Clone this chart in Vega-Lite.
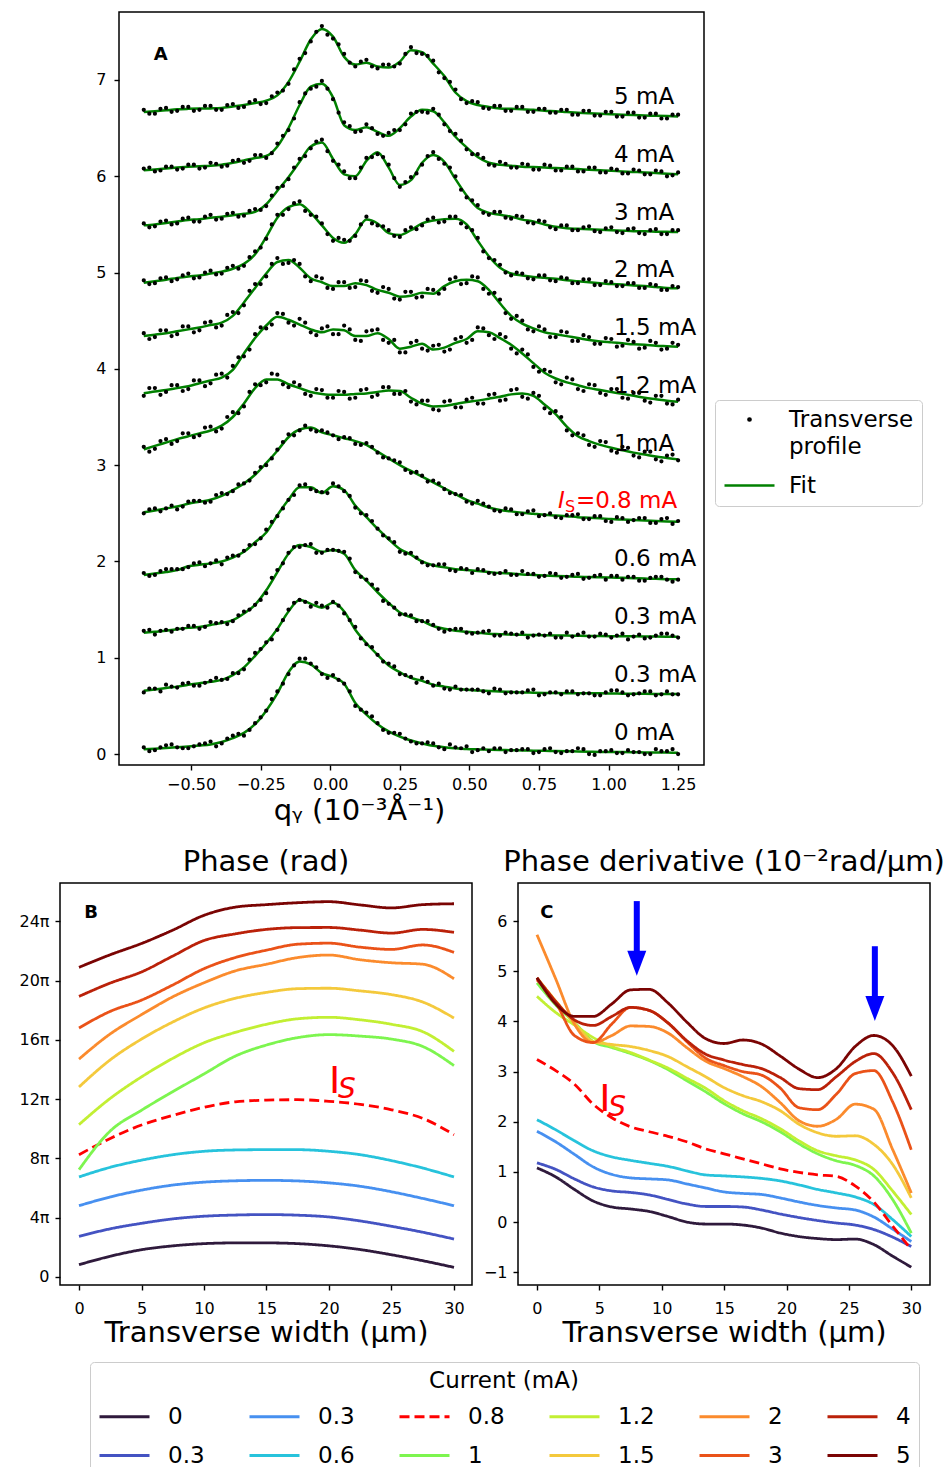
{
"$schema":"https://vega.github.io/schema/vega-lite/v6.json",
"padding":{"left":18,"top":11,"right":0,"bottom":0},
"autosize":{"type":"pad"},
"background":"white",
"config":{
 "font":"DejaVu Sans",
 "view":{"stroke":"black","strokeWidth":1.5},
 "axis":{"domain":false,"grid":false,"tickColor":"black","tickWidth":1.4,"tickSize":5,"labelFont":"DejaVu Sans","labelFontSize":16,"labelColor":"black","titleFont":"DejaVu Sans","titleFontSize":29,"titleFontWeight":"normal","titleColor":"black"},
 "axisX":{"labelPadding":10},
 "axisY":{"labelPadding":6},
 "title":{"font":"DejaVu Sans","fontSize":29,"fontWeight":"normal","color":"black","offset":6},
 "legend":{"labelFont":"DejaVu Sans","titleFont":"DejaVu Sans","labelColor":"black","titleColor":"black"},
 "text":{"font":"DejaVu Sans"}
},
"datasets":{
"A":[
{"k":0,"x":-0.67,"f":0.05,"d":0.07},{"k":0,"x":-0.63,"f":0.055,"d":0.04},{"k":0,"x":-0.59,"f":0.062,"d":0.09},{"k":0,"x":-0.55,"f":0.07,"d":0.07},{"k":0,"x":-0.51,"f":0.078,"d":0.06},{"k":0,"x":-0.47,"f":0.088,"d":0.10},{"k":0,"x":-0.43,"f":0.10,"d":0.13},{"k":0,"x":-0.39,"f":0.125,"d":0.11},{"k":0,"x":-0.35,"f":0.165,"d":0.19},{"k":0,"x":-0.31,"f":0.22,"d":0.19},{"k":0,"x":-0.27,"f":0.31,"d":0.32},{"k":0,"x":-0.23,"f":0.45,"d":0.45},{"k":0,"x":-0.19,"f":0.63,"d":0.65},{"k":0,"x":-0.15,"f":0.85,"d":0.83},{"k":0,"x":-0.11,"f":0.96,"d":0.99},{"k":0,"x":-0.07,"f":0.93,"d":0.94},{"k":0,"x":-0.03,"f":0.84,"d":0.83},{"k":0,"x":0.01,"f":0.80,"d":0.82},{"k":0,"x":0.05,"f":0.73,"d":0.73},{"k":0,"x":0.09,"f":0.53,"d":0.50},{"k":0,"x":0.13,"f":0.41,"d":0.43},{"k":0,"x":0.17,"f":0.31,"d":0.32},{"k":0,"x":0.21,"f":0.235,"d":0.22},{"k":0,"x":0.25,"f":0.18,"d":0.21},{"k":0,"x":0.29,"f":0.14,"d":0.13},{"k":0,"x":0.33,"f":0.11,"d":0.11},{"k":0,"x":0.37,"f":0.085,"d":0.11},{"k":0,"x":0.41,"f":0.07,"d":0.05},{"k":0,"x":0.45,"f":0.06,"d":0.07},{"k":0,"x":0.49,"f":0.052,"d":0.08},{"k":0,"x":0.53,"f":0.048,"d":0.04},{"k":0,"x":0.57,"f":0.045,"d":0.03},{"k":0,"x":0.61,"f":0.042,"d":0.06},{"k":0,"x":0.65,"f":0.04,"d":0.04},{"k":0,"x":0.69,"f":0.037,"d":0.05},{"k":0,"x":0.73,"f":0.035,"d":0.01},{"k":0,"x":0.77,"f":0.033,"d":0.05},{"k":0,"x":0.81,"f":0.031,"d":0.02},{"k":0,"x":0.85,"f":0.029,"d":0.03},{"k":0,"x":0.89,"f":0.026,"d":0.06},{"k":0,"x":0.93,"f":0.024,"d":0.00},{"k":0,"x":0.97,"f":0.022,"d":0.03},{"k":0,"x":1.01,"f":0.021,"d":0.04},{"k":0,"x":1.05,"f":0.02,"d":0.01},{"k":0,"x":1.09,"f":0.019,"d":0.02},{"k":0,"x":1.13,"f":0.017,"d":0.00},{"k":0,"x":1.17,"f":0.016,"d":0.05},{"k":0,"x":1.21,"f":0.015,"d":0.03},{"k":0,"x":1.25,"f":0.014,"d":0.00},
{"k":1,"x":-0.67,"f":0.657,"d":0.64},{"k":1,"x":-0.63,"f":0.67,"d":0.68},{"k":1,"x":-0.59,"f":0.685,"d":0.72},{"k":1,"x":-0.55,"f":0.70,"d":0.69},{"k":1,"x":-0.51,"f":0.72,"d":0.74},{"k":1,"x":-0.47,"f":0.735,"d":0.71},{"k":1,"x":-0.43,"f":0.75,"d":0.76},{"k":1,"x":-0.39,"f":0.77,"d":0.77},{"k":1,"x":-0.35,"f":0.82,"d":0.84},{"k":1,"x":-0.31,"f":0.90,"d":0.88},{"k":1,"x":-0.27,"f":1.02,"d":1.05},{"k":1,"x":-0.23,"f":1.15,"d":1.16},{"k":1,"x":-0.19,"f":1.30,"d":1.29},{"k":1,"x":-0.15,"f":1.48,"d":1.50},{"k":1,"x":-0.11,"f":1.60,"d":1.60},{"k":1,"x":-0.07,"f":1.56,"d":1.53},{"k":1,"x":-0.03,"f":1.52,"d":1.54},{"k":1,"x":0.01,"f":1.57,"d":1.58},{"k":1,"x":0.05,"f":1.48,"d":1.46},{"k":1,"x":0.09,"f":1.29,"d":1.32},{"k":1,"x":0.13,"f":1.15,"d":1.14},{"k":1,"x":0.17,"f":1.03,"d":1.03},{"k":1,"x":0.21,"f":0.92,"d":0.94},{"k":1,"x":0.25,"f":0.85,"d":0.83},{"k":1,"x":0.29,"f":0.79,"d":0.80},{"k":1,"x":0.33,"f":0.76,"d":0.79},{"k":1,"x":0.37,"f":0.72,"d":0.71},{"k":1,"x":0.41,"f":0.70,"d":0.68},{"k":1,"x":0.45,"f":0.68,"d":0.70},{"k":1,"x":0.49,"f":0.667,"d":0.67},{"k":1,"x":0.53,"f":0.66,"d":0.67},{"k":1,"x":0.57,"f":0.655,"d":0.63},{"k":1,"x":0.61,"f":0.65,"d":0.67},{"k":1,"x":0.65,"f":0.645,"d":0.64},{"k":1,"x":0.69,"f":0.64,"d":0.64},{"k":1,"x":0.73,"f":0.637,"d":0.67},{"k":1,"x":0.77,"f":0.635,"d":0.62},{"k":1,"x":0.81,"f":0.633,"d":0.64},{"k":1,"x":0.85,"f":0.632,"d":0.65},{"k":1,"x":0.89,"f":0.631,"d":0.62},{"k":1,"x":0.93,"f":0.63,"d":0.63},{"k":1,"x":0.97,"f":0.63,"d":0.61},{"k":1,"x":1.01,"f":0.628,"d":0.66},{"k":1,"x":1.05,"f":0.627,"d":0.64},{"k":1,"x":1.09,"f":0.626,"d":0.62},{"k":1,"x":1.13,"f":0.625,"d":0.65},{"k":1,"x":1.17,"f":0.624,"d":0.61},{"k":1,"x":1.21,"f":0.623,"d":0.65},{"k":1,"x":1.25,"f":0.623,"d":0.62},
{"k":2,"x":-0.67,"f":1.26,"d":1.28},{"k":2,"x":-0.63,"f":1.27,"d":1.24},{"k":2,"x":-0.59,"f":1.28,"d":1.29},{"k":2,"x":-0.55,"f":1.295,"d":1.30},{"k":2,"x":-0.51,"f":1.31,"d":1.33},{"k":2,"x":-0.47,"f":1.32,"d":1.30},{"k":2,"x":-0.43,"f":1.34,"d":1.37},{"k":2,"x":-0.39,"f":1.36,"d":1.37},{"k":2,"x":-0.35,"f":1.39,"d":1.38},{"k":2,"x":-0.31,"f":1.46,"d":1.48},{"k":2,"x":-0.27,"f":1.55,"d":1.55},{"k":2,"x":-0.23,"f":1.70,"d":1.67},{"k":2,"x":-0.19,"f":1.89,"d":1.91},{"k":2,"x":-0.15,"f":2.08,"d":2.09},{"k":2,"x":-0.11,"f":2.17,"d":2.15},{"k":2,"x":-0.07,"f":2.15,"d":2.18},{"k":2,"x":-0.03,"f":2.10,"d":2.09},{"k":2,"x":0.01,"f":2.12,"d":2.12},{"k":2,"x":0.05,"f":2.08,"d":2.10},{"k":2,"x":0.09,"f":1.91,"d":1.89},{"k":2,"x":0.13,"f":1.80,"d":1.81},{"k":2,"x":0.17,"f":1.68,"d":1.71},{"k":2,"x":0.21,"f":1.57,"d":1.56},{"k":2,"x":0.25,"f":1.47,"d":1.45},{"k":2,"x":0.29,"f":1.42,"d":1.44},{"k":2,"x":0.33,"f":1.38,"d":1.38},{"k":2,"x":0.37,"f":1.33,"d":1.34},{"k":2,"x":0.41,"f":1.30,"d":1.27},{"k":2,"x":0.45,"f":1.28,"d":1.30},{"k":2,"x":0.49,"f":1.27,"d":1.26},{"k":2,"x":0.53,"f":1.26,"d":1.26},{"k":2,"x":0.57,"f":1.25,"d":1.28},{"k":2,"x":0.61,"f":1.245,"d":1.23},{"k":2,"x":0.65,"f":1.24,"d":1.25},{"k":2,"x":0.69,"f":1.238,"d":1.26},{"k":2,"x":0.73,"f":1.236,"d":1.23},{"k":2,"x":0.77,"f":1.234,"d":1.23},{"k":2,"x":0.81,"f":1.232,"d":1.21},{"k":2,"x":0.85,"f":1.23,"d":1.26},{"k":2,"x":0.89,"f":1.228,"d":1.24},{"k":2,"x":0.93,"f":1.226,"d":1.22},{"k":2,"x":0.97,"f":1.225,"d":1.25},{"k":2,"x":1.01,"f":1.224,"d":1.21},{"k":2,"x":1.05,"f":1.223,"d":1.25},{"k":2,"x":1.09,"f":1.222,"d":1.22},{"k":2,"x":1.13,"f":1.221,"d":1.20},{"k":2,"x":1.17,"f":1.22,"d":1.23},{"k":2,"x":1.21,"f":1.219,"d":1.25},{"k":2,"x":1.25,"f":1.218,"d":1.21},
{"k":3,"x":-0.67,"f":1.86,"d":1.88},{"k":3,"x":-0.63,"f":1.875,"d":1.86},{"k":3,"x":-0.59,"f":1.89,"d":1.92},{"k":3,"x":-0.55,"f":1.91,"d":1.92},{"k":3,"x":-0.51,"f":1.95,"d":1.94},{"k":3,"x":-0.47,"f":1.965,"d":1.99},{"k":3,"x":-0.43,"f":1.98,"d":1.98},{"k":3,"x":-0.39,"f":2.00,"d":1.97},{"k":3,"x":-0.35,"f":2.04,"d":2.06},{"k":3,"x":-0.31,"f":2.10,"d":2.11},{"k":3,"x":-0.27,"f":2.20,"d":2.18},{"k":3,"x":-0.23,"f":2.30,"d":2.33},{"k":3,"x":-0.19,"f":2.48,"d":2.47},{"k":3,"x":-0.15,"f":2.64,"d":2.64},{"k":3,"x":-0.11,"f":2.77,"d":2.79},{"k":3,"x":-0.07,"f":2.77,"d":2.75},{"k":3,"x":-0.03,"f":2.71,"d":2.72},{"k":3,"x":0.01,"f":2.78,"d":2.81},{"k":3,"x":0.05,"f":2.74,"d":2.73},{"k":3,"x":0.09,"f":2.58,"d":2.56},{"k":3,"x":0.13,"f":2.46,"d":2.48},{"k":3,"x":0.17,"f":2.34,"d":2.34},{"k":3,"x":0.21,"f":2.23,"d":2.24},{"k":3,"x":0.25,"f":2.13,"d":2.10},{"k":3,"x":0.29,"f":2.07,"d":2.09},{"k":3,"x":0.33,"f":2.00,"d":1.99},{"k":3,"x":0.37,"f":1.96,"d":1.96},{"k":3,"x":0.41,"f":1.94,"d":1.97},{"k":3,"x":0.45,"f":1.92,"d":1.90},{"k":3,"x":0.49,"f":1.91,"d":1.92},{"k":3,"x":0.53,"f":1.90,"d":1.92},{"k":3,"x":0.57,"f":1.89,"d":1.88},{"k":3,"x":0.61,"f":1.88,"d":1.88},{"k":3,"x":0.65,"f":1.875,"d":1.86},{"k":3,"x":0.69,"f":1.865,"d":1.90},{"k":3,"x":0.73,"f":1.86,"d":1.87},{"k":3,"x":0.77,"f":1.855,"d":1.85},{"k":3,"x":0.81,"f":1.85,"d":1.87},{"k":3,"x":0.85,"f":1.845,"d":1.84},{"k":3,"x":0.89,"f":1.84,"d":1.87},{"k":3,"x":0.93,"f":1.838,"d":1.83},{"k":3,"x":0.97,"f":1.835,"d":1.86},{"k":3,"x":1.01,"f":1.832,"d":1.85},{"k":3,"x":1.05,"f":1.83,"d":1.81},{"k":3,"x":1.09,"f":1.826,"d":1.84},{"k":3,"x":1.13,"f":1.822,"d":1.80},{"k":3,"x":1.17,"f":1.82,"d":1.84},{"k":3,"x":1.21,"f":1.816,"d":1.81},{"k":3,"x":1.25,"f":1.814,"d":1.81},
{"k":4,"x":-0.67,"f":2.51,"d":2.50},{"k":4,"x":-0.63,"f":2.53,"d":2.55},{"k":4,"x":-0.59,"f":2.55,"d":2.55},{"k":4,"x":-0.55,"f":2.57,"d":2.54},{"k":4,"x":-0.51,"f":2.60,"d":2.62},{"k":4,"x":-0.47,"f":2.62,"d":2.63},{"k":4,"x":-0.43,"f":2.64,"d":2.62},{"k":4,"x":-0.39,"f":2.68,"d":2.71},{"k":4,"x":-0.35,"f":2.74,"d":2.73},{"k":4,"x":-0.31,"f":2.81,"d":2.81},{"k":4,"x":-0.27,"f":2.90,"d":2.92},{"k":4,"x":-0.23,"f":3.02,"d":3.00},{"k":4,"x":-0.19,"f":3.15,"d":3.16},{"k":4,"x":-0.15,"f":3.29,"d":3.32},{"k":4,"x":-0.11,"f":3.37,"d":3.36},{"k":4,"x":-0.07,"f":3.39,"d":3.37},{"k":4,"x":-0.03,"f":3.34,"d":3.36},{"k":4,"x":0.01,"f":3.31,"d":3.31},{"k":4,"x":0.05,"f":3.28,"d":3.29},{"k":4,"x":0.09,"f":3.25,"d":3.22},{"k":4,"x":0.13,"f":3.21,"d":3.23},{"k":4,"x":0.17,"f":3.14,"d":3.13},{"k":4,"x":0.21,"f":3.07,"d":3.07},{"k":4,"x":0.25,"f":3.00,"d":3.03},{"k":4,"x":0.29,"f":2.94,"d":2.92},{"k":4,"x":0.33,"f":2.88,"d":2.89},{"k":4,"x":0.37,"f":2.82,"d":2.84},{"k":4,"x":0.41,"f":2.76,"d":2.75},{"k":4,"x":0.45,"f":2.70,"d":2.70},{"k":4,"x":0.49,"f":2.64,"d":2.62},{"k":4,"x":0.53,"f":2.60,"d":2.63},{"k":4,"x":0.57,"f":2.56,"d":2.57},{"k":4,"x":0.61,"f":2.535,"d":2.52},{"k":4,"x":0.65,"f":2.52,"d":2.54},{"k":4,"x":0.69,"f":2.505,"d":2.49},{"k":4,"x":0.73,"f":2.495,"d":2.53},{"k":4,"x":0.77,"f":2.485,"d":2.48},{"k":4,"x":0.81,"f":2.478,"d":2.46},{"k":4,"x":0.85,"f":2.47,"d":2.48},{"k":4,"x":0.89,"f":2.46,"d":2.49},{"k":4,"x":0.93,"f":2.455,"d":2.44},{"k":4,"x":0.97,"f":2.448,"d":2.47},{"k":4,"x":1.01,"f":2.44,"d":2.41},{"k":4,"x":1.05,"f":2.435,"d":2.45},{"k":4,"x":1.09,"f":2.43,"d":2.43},{"k":4,"x":1.13,"f":2.425,"d":2.45},{"k":4,"x":1.17,"f":2.42,"d":2.40},{"k":4,"x":1.21,"f":2.416,"d":2.45},{"k":4,"x":1.25,"f":2.413,"d":2.42},
{"k":5,"x":-0.67,"f":3.164,"d":3.19},{"k":5,"x":-0.63,"f":3.20,"d":3.17},{"k":5,"x":-0.59,"f":3.235,"d":3.27},{"k":5,"x":-0.55,"f":3.27,"d":3.25},{"k":5,"x":-0.51,"f":3.30,"d":3.33},{"k":5,"x":-0.47,"f":3.33,"d":3.31},{"k":5,"x":-0.43,"f":3.36,"d":3.40},{"k":5,"x":-0.39,"f":3.41,"d":3.38},{"k":5,"x":-0.35,"f":3.50,"d":3.55},{"k":5,"x":-0.31,"f":3.64,"d":3.61},{"k":5,"x":-0.27,"f":3.80,"d":3.84},{"k":5,"x":-0.23,"f":3.89,"d":3.86},{"k":5,"x":-0.19,"f":3.89,"d":3.94},{"k":5,"x":-0.15,"f":3.84,"d":3.81},{"k":5,"x":-0.11,"f":3.80,"d":3.83},{"k":5,"x":-0.07,"f":3.76,"d":3.72},{"k":5,"x":-0.03,"f":3.74,"d":3.78},{"k":5,"x":0.01,"f":3.73,"d":3.70},{"k":5,"x":0.05,"f":3.73,"d":3.76},{"k":5,"x":0.09,"f":3.74,"d":3.70},{"k":5,"x":0.13,"f":3.745,"d":3.79},{"k":5,"x":0.17,"f":3.76,"d":3.73},{"k":5,"x":0.21,"f":3.775,"d":3.81},{"k":5,"x":0.25,"f":3.77,"d":3.74},{"k":5,"x":0.29,"f":3.70,"d":3.66},{"k":5,"x":0.33,"f":3.64,"d":3.67},{"k":5,"x":0.37,"f":3.61,"d":3.58},{"k":5,"x":0.41,"f":3.615,"d":3.66},{"k":5,"x":0.45,"f":3.635,"d":3.60},{"k":5,"x":0.49,"f":3.655,"d":3.68},{"k":5,"x":0.53,"f":3.67,"d":3.64},{"k":5,"x":0.57,"f":3.69,"d":3.73},{"k":5,"x":0.61,"f":3.71,"d":3.67},{"k":5,"x":0.65,"f":3.735,"d":3.78},{"k":5,"x":0.69,"f":3.745,"d":3.71},{"k":5,"x":0.73,"f":3.72,"d":3.75},{"k":5,"x":0.77,"f":3.63,"d":3.59},{"k":5,"x":0.81,"f":3.53,"d":3.56},{"k":5,"x":0.85,"f":3.40,"d":3.36},{"k":5,"x":0.89,"f":3.30,"d":3.33},{"k":5,"x":0.93,"f":3.25,"d":3.21},{"k":5,"x":0.97,"f":3.21,"d":3.25},{"k":5,"x":1.01,"f":3.18,"d":3.15},{"k":5,"x":1.05,"f":3.155,"d":3.19},{"k":5,"x":1.09,"f":3.13,"d":3.10},{"k":5,"x":1.13,"f":3.11,"d":3.14},{"k":5,"x":1.17,"f":3.09,"d":3.06},{"k":5,"x":1.21,"f":3.075,"d":3.10},{"k":5,"x":1.25,"f":3.06,"d":3.05},
{"k":6,"x":-0.67,"f":3.746,"d":3.72},{"k":6,"x":-0.63,"f":3.765,"d":3.80},{"k":6,"x":-0.59,"f":3.78,"d":3.76},{"k":6,"x":-0.55,"f":3.80,"d":3.83},{"k":6,"x":-0.51,"f":3.82,"d":3.79},{"k":6,"x":-0.47,"f":3.85,"d":3.88},{"k":6,"x":-0.43,"f":3.88,"d":3.85},{"k":6,"x":-0.39,"f":3.91,"d":3.95},{"k":6,"x":-0.35,"f":3.99,"d":4.03},{"k":6,"x":-0.31,"f":4.16,"d":4.13},{"k":6,"x":-0.27,"f":4.32,"d":4.36},{"k":6,"x":-0.23,"f":4.45,"d":4.42},{"k":6,"x":-0.19,"f":4.54,"d":4.58},{"k":6,"x":-0.15,"f":4.51,"d":4.48},{"k":6,"x":-0.11,"f":4.46,"d":4.52},{"k":6,"x":-0.07,"f":4.41,"d":4.38},{"k":6,"x":-0.03,"f":4.38,"d":4.42},{"k":6,"x":0.01,"f":4.41,"d":4.36},{"k":6,"x":0.05,"f":4.40,"d":4.45},{"k":6,"x":0.09,"f":4.34,"d":4.30},{"k":6,"x":0.13,"f":4.34,"d":4.39},{"k":6,"x":0.17,"f":4.37,"d":4.41},{"k":6,"x":0.21,"f":4.31,"d":4.27},{"k":6,"x":0.25,"f":4.21,"d":4.17},{"k":6,"x":0.29,"f":4.23,"d":4.27},{"k":6,"x":0.33,"f":4.26,"d":4.21},{"k":6,"x":0.37,"f":4.20,"d":4.24},{"k":6,"x":0.41,"f":4.22,"d":4.18},{"k":6,"x":0.45,"f":4.27,"d":4.31},{"k":6,"x":0.49,"f":4.31,"d":4.27},{"k":6,"x":0.53,"f":4.39,"d":4.43},{"k":6,"x":0.57,"f":4.38,"d":4.35},{"k":6,"x":0.61,"f":4.32,"d":4.36},{"k":6,"x":0.65,"f":4.25,"d":4.21},{"k":6,"x":0.69,"f":4.16,"d":4.20},{"k":6,"x":0.73,"f":4.06,"d":4.02},{"k":6,"x":0.77,"f":3.96,"d":3.99},{"k":6,"x":0.81,"f":3.90,"d":3.86},{"k":6,"x":0.85,"f":3.86,"d":3.91},{"k":6,"x":0.89,"f":3.83,"d":3.79},{"k":6,"x":0.93,"f":3.80,"d":3.84},{"k":6,"x":0.97,"f":3.78,"d":3.75},{"k":6,"x":1.01,"f":3.76,"d":3.79},{"k":6,"x":1.05,"f":3.74,"d":3.70},{"k":6,"x":1.09,"f":3.72,"d":3.75},{"k":6,"x":1.13,"f":3.70,"d":3.67},{"k":6,"x":1.17,"f":3.685,"d":3.72},{"k":6,"x":1.21,"f":3.67,"d":3.64},{"k":6,"x":1.25,"f":3.659,"d":3.68},
{"k":7,"x":-0.67,"f":4.341,"d":4.37},{"k":7,"x":-0.63,"f":4.355,"d":4.33},{"k":7,"x":-0.59,"f":4.37,"d":4.40},{"k":7,"x":-0.55,"f":4.39,"d":4.36},{"k":7,"x":-0.51,"f":4.41,"d":4.44},{"k":7,"x":-0.47,"f":4.43,"d":4.40},{"k":7,"x":-0.43,"f":4.455,"d":4.49},{"k":7,"x":-0.39,"f":4.48,"d":4.45},{"k":7,"x":-0.35,"f":4.55,"d":4.59},{"k":7,"x":-0.31,"f":4.69,"d":4.66},{"k":7,"x":-0.27,"f":4.84,"d":4.88},{"k":7,"x":-0.23,"f":4.99,"d":4.96},{"k":7,"x":-0.19,"f":5.11,"d":5.15},{"k":7,"x":-0.15,"f":5.13,"d":5.10},{"k":7,"x":-0.11,"f":5.05,"d":5.09},{"k":7,"x":-0.07,"f":4.94,"d":4.91},{"k":7,"x":-0.03,"f":4.90,"d":4.94},{"k":7,"x":0.01,"f":4.86,"d":4.83},{"k":7,"x":0.05,"f":4.86,"d":4.90},{"k":7,"x":0.09,"f":4.89,"d":4.85},{"k":7,"x":0.13,"f":4.87,"d":4.91},{"k":7,"x":0.17,"f":4.82,"d":4.79},{"k":7,"x":0.21,"f":4.79,"d":4.83},{"k":7,"x":0.25,"f":4.75,"d":4.72},{"k":7,"x":0.29,"f":4.76,"d":4.80},{"k":7,"x":0.33,"f":4.79,"d":4.75},{"k":7,"x":0.37,"f":4.78,"d":4.82},{"k":7,"x":0.41,"f":4.86,"d":4.83},{"k":7,"x":0.45,"f":4.91,"d":4.95},{"k":7,"x":0.49,"f":4.925,"d":4.89},{"k":7,"x":0.53,"f":4.91,"d":4.95},{"k":7,"x":0.57,"f":4.82,"d":4.78},{"k":7,"x":0.61,"f":4.68,"d":4.72},{"k":7,"x":0.65,"f":4.55,"d":4.52},{"k":7,"x":0.69,"f":4.47,"d":4.50},{"k":7,"x":0.73,"f":4.42,"d":4.39},{"k":7,"x":0.77,"f":4.38,"d":4.41},{"k":7,"x":0.81,"f":4.36,"d":4.33},{"k":7,"x":0.85,"f":4.34,"d":4.38},{"k":7,"x":0.89,"f":4.32,"d":4.29},{"k":7,"x":0.93,"f":4.30,"d":4.33},{"k":7,"x":0.97,"f":4.285,"d":4.26},{"k":7,"x":1.01,"f":4.275,"d":4.31},{"k":7,"x":1.05,"f":4.265,"d":4.24},{"k":7,"x":1.09,"f":4.255,"d":4.28},{"k":7,"x":1.13,"f":4.25,"d":4.22},{"k":7,"x":1.17,"f":4.24,"d":4.27},{"k":7,"x":1.21,"f":4.235,"d":4.21},{"k":7,"x":1.25,"f":4.23,"d":4.25},
{"k":8,"x":-0.67,"f":4.895,"d":4.92},{"k":8,"x":-0.63,"f":4.91,"d":4.89},{"k":8,"x":-0.59,"f":4.925,"d":4.95},{"k":8,"x":-0.55,"f":4.945,"d":4.93},{"k":8,"x":-0.51,"f":4.96,"d":4.99},{"k":8,"x":-0.47,"f":4.97,"d":4.95},{"k":8,"x":-0.43,"f":4.99,"d":5.02},{"k":8,"x":-0.39,"f":5.01,"d":4.99},{"k":8,"x":-0.35,"f":5.04,"d":5.07},{"k":8,"x":-0.31,"f":5.09,"d":5.07},{"k":8,"x":-0.27,"f":5.19,"d":5.22},{"k":8,"x":-0.23,"f":5.37,"d":5.35},{"k":8,"x":-0.19,"f":5.57,"d":5.60},{"k":8,"x":-0.15,"f":5.68,"d":5.66},{"k":8,"x":-0.11,"f":5.71,"d":5.74},{"k":8,"x":-0.07,"f":5.62,"d":5.60},{"k":8,"x":-0.03,"f":5.49,"d":5.51},{"k":8,"x":0.01,"f":5.36,"d":5.33},{"k":8,"x":0.05,"f":5.31,"d":5.34},{"k":8,"x":0.09,"f":5.40,"d":5.38},{"k":8,"x":0.13,"f":5.55,"d":5.58},{"k":8,"x":0.17,"f":5.51,"d":5.49},{"k":8,"x":0.21,"f":5.41,"d":5.44},{"k":8,"x":0.25,"f":5.39,"d":5.37},{"k":8,"x":0.29,"f":5.44,"d":5.47},{"k":8,"x":0.33,"f":5.51,"d":5.49},{"k":8,"x":0.37,"f":5.54,"d":5.57},{"k":8,"x":0.41,"f":5.555,"d":5.53},{"k":8,"x":0.45,"f":5.56,"d":5.58},{"k":8,"x":0.49,"f":5.50,"d":5.47},{"k":8,"x":0.53,"f":5.33,"d":5.36},{"k":8,"x":0.57,"f":5.17,"d":5.15},{"k":8,"x":0.61,"f":5.05,"d":5.08},{"k":8,"x":0.65,"f":4.99,"d":4.97},{"k":8,"x":0.69,"f":4.97,"d":4.99},{"k":8,"x":0.73,"f":4.955,"d":4.93},{"k":8,"x":0.77,"f":4.945,"d":4.97},{"k":8,"x":0.81,"f":4.935,"d":4.91},{"k":8,"x":0.85,"f":4.92,"d":4.94},{"k":8,"x":0.89,"f":4.91,"d":4.89},{"k":8,"x":0.93,"f":4.90,"d":4.93},{"k":8,"x":0.97,"f":4.89,"d":4.87},{"k":8,"x":1.01,"f":4.88,"d":4.90},{"k":8,"x":1.05,"f":4.875,"d":4.86},{"k":8,"x":1.09,"f":4.865,"d":4.89},{"k":8,"x":1.13,"f":4.86,"d":4.84},{"k":8,"x":1.17,"f":4.85,"d":4.87},{"k":8,"x":1.21,"f":4.84,"d":4.82},{"k":8,"x":1.25,"f":4.836,"d":4.85},
{"k":9,"x":-0.67,"f":5.491,"d":5.51},{"k":9,"x":-0.63,"f":5.50,"d":5.48},{"k":9,"x":-0.59,"f":5.515,"d":5.54},{"k":9,"x":-0.55,"f":5.53,"d":5.51},{"k":9,"x":-0.51,"f":5.545,"d":5.57},{"k":9,"x":-0.47,"f":5.555,"d":5.53},{"k":9,"x":-0.43,"f":5.57,"d":5.60},{"k":9,"x":-0.39,"f":5.58,"d":5.56},{"k":9,"x":-0.35,"f":5.595,"d":5.62},{"k":9,"x":-0.31,"f":5.61,"d":5.59},{"k":9,"x":-0.27,"f":5.63,"d":5.66},{"k":9,"x":-0.23,"f":5.71,"d":5.69},{"k":9,"x":-0.19,"f":5.85,"d":5.88},{"k":9,"x":-0.15,"f":5.99,"d":5.97},{"k":9,"x":-0.11,"f":6.15,"d":6.18},{"k":9,"x":-0.07,"f":6.31,"d":6.29},{"k":9,"x":-0.03,"f":6.35,"d":6.38},{"k":9,"x":0.01,"f":6.18,"d":6.16},{"k":9,"x":0.05,"f":6.02,"d":6.05},{"k":9,"x":0.09,"f":6.00,"d":5.98},{"k":9,"x":0.13,"f":6.16,"d":6.19},{"k":9,"x":0.17,"f":6.25,"d":6.23},{"k":9,"x":0.21,"f":6.09,"d":6.12},{"k":9,"x":0.25,"f":5.91,"d":5.89},{"k":9,"x":0.29,"f":5.96,"d":5.99},{"k":9,"x":0.33,"f":6.14,"d":6.12},{"k":9,"x":0.37,"f":6.22,"d":6.25},{"k":9,"x":0.41,"f":6.15,"d":6.13},{"k":9,"x":0.45,"f":5.97,"d":6.00},{"k":9,"x":0.49,"f":5.80,"d":5.78},{"k":9,"x":0.53,"f":5.67,"d":5.70},{"k":9,"x":0.57,"f":5.62,"d":5.60},{"k":9,"x":0.61,"f":5.60,"d":5.63},{"k":9,"x":0.65,"f":5.58,"d":5.56},{"k":9,"x":0.69,"f":5.55,"d":5.58},{"k":9,"x":0.73,"f":5.53,"d":5.51},{"k":9,"x":0.77,"f":5.50,"d":5.53},{"k":9,"x":0.81,"f":5.475,"d":5.45},{"k":9,"x":0.85,"f":5.46,"d":5.49},{"k":9,"x":0.89,"f":5.455,"d":5.44},{"k":9,"x":0.93,"f":5.45,"d":5.48},{"k":9,"x":0.97,"f":5.445,"d":5.42},{"k":9,"x":1.01,"f":5.44,"d":5.47},{"k":9,"x":1.05,"f":5.435,"d":5.41},{"k":9,"x":1.09,"f":5.43,"d":5.46},{"k":9,"x":1.13,"f":5.428,"d":5.40},{"k":9,"x":1.17,"f":5.425,"d":5.45},{"k":9,"x":1.21,"f":5.423,"d":5.40},{"k":9,"x":1.25,"f":5.421,"d":5.44},
{"k":10,"x":-0.67,"f":6.062,"d":6.08},{"k":10,"x":-0.63,"f":6.07,"d":6.05},{"k":10,"x":-0.59,"f":6.08,"d":6.10},{"k":10,"x":-0.55,"f":6.09,"d":6.07},{"k":10,"x":-0.51,"f":6.098,"d":6.12},{"k":10,"x":-0.47,"f":6.105,"d":6.08},{"k":10,"x":-0.43,"f":6.11,"d":6.14},{"k":10,"x":-0.39,"f":6.12,"d":6.10},{"k":10,"x":-0.35,"f":6.14,"d":6.16},{"k":10,"x":-0.31,"f":6.165,"d":6.14},{"k":10,"x":-0.27,"f":6.19,"d":6.22},{"k":10,"x":-0.23,"f":6.21,"d":6.19},{"k":10,"x":-0.19,"f":6.31,"d":6.34},{"k":10,"x":-0.15,"f":6.50,"d":6.48},{"k":10,"x":-0.11,"f":6.74,"d":6.77},{"k":10,"x":-0.07,"f":6.93,"d":6.91},{"k":10,"x":-0.03,"f":6.96,"d":6.99},{"k":10,"x":0.01,"f":6.82,"d":6.80},{"k":10,"x":0.05,"f":6.53,"d":6.56},{"k":10,"x":0.09,"f":6.48,"d":6.46},{"k":10,"x":0.13,"f":6.51,"d":6.54},{"k":10,"x":0.17,"f":6.46,"d":6.44},{"k":10,"x":0.21,"f":6.42,"d":6.45},{"k":10,"x":0.25,"f":6.50,"d":6.48},{"k":10,"x":0.29,"f":6.62,"d":6.65},{"k":10,"x":0.33,"f":6.69,"d":6.67},{"k":10,"x":0.37,"f":6.675,"d":6.70},{"k":10,"x":0.41,"f":6.56,"d":6.54},{"k":10,"x":0.45,"f":6.41,"d":6.44},{"k":10,"x":0.49,"f":6.30,"d":6.28},{"k":10,"x":0.53,"f":6.20,"d":6.23},{"k":10,"x":0.57,"f":6.14,"d":6.12},{"k":10,"x":0.61,"f":6.12,"d":6.15},{"k":10,"x":0.65,"f":6.11,"d":6.09},{"k":10,"x":0.69,"f":6.10,"d":6.13},{"k":10,"x":0.73,"f":6.096,"d":6.07},{"k":10,"x":0.77,"f":6.09,"d":6.12},{"k":10,"x":0.81,"f":6.085,"d":6.06},{"k":10,"x":0.85,"f":6.08,"d":6.10},{"k":10,"x":0.89,"f":6.075,"d":6.05},{"k":10,"x":0.93,"f":6.068,"d":6.09},{"k":10,"x":0.97,"f":6.062,"d":6.04},{"k":10,"x":1.01,"f":6.057,"d":6.08},{"k":10,"x":1.05,"f":6.05,"d":6.03},{"k":10,"x":1.09,"f":6.045,"d":6.07},{"k":10,"x":1.13,"f":6.04,"d":6.02},{"k":10,"x":1.17,"f":6.033,"d":6.06},{"k":10,"x":1.21,"f":6.027,"d":6.00},{"k":10,"x":1.25,"f":6.02,"d":6.04},
{"k":11,"x":-0.67,"f":6.667,"d":6.69},{"k":11,"x":-0.63,"f":6.675,"d":6.65},{"k":11,"x":-0.59,"f":6.685,"d":6.71},{"k":11,"x":-0.55,"f":6.695,"d":6.68},{"k":11,"x":-0.51,"f":6.70,"d":6.72},{"k":11,"x":-0.47,"f":6.703,"d":6.69},{"k":11,"x":-0.43,"f":6.705,"d":6.73},{"k":11,"x":-0.39,"f":6.71,"d":6.69},{"k":11,"x":-0.35,"f":6.725,"d":6.75},{"k":11,"x":-0.31,"f":6.74,"d":6.72},{"k":11,"x":-0.27,"f":6.76,"d":6.79},{"k":11,"x":-0.23,"f":6.785,"d":6.76},{"k":11,"x":-0.19,"f":6.84,"d":6.87},{"k":11,"x":-0.15,"f":6.98,"d":6.96},{"k":11,"x":-0.11,"f":7.19,"d":7.22},{"k":11,"x":-0.07,"f":7.42,"d":7.40},{"k":11,"x":-0.03,"f":7.53,"d":7.56},{"k":11,"x":0.01,"f":7.45,"d":7.43},{"k":11,"x":0.05,"f":7.24,"d":7.27},{"k":11,"x":0.09,"f":7.16,"d":7.14},{"k":11,"x":0.13,"f":7.18,"d":7.21},{"k":11,"x":0.17,"f":7.14,"d":7.12},{"k":11,"x":0.21,"f":7.13,"d":7.16},{"k":11,"x":0.25,"f":7.19,"d":7.17},{"k":11,"x":0.29,"f":7.31,"d":7.34},{"k":11,"x":0.33,"f":7.29,"d":7.27},{"k":11,"x":0.37,"f":7.17,"d":7.20},{"k":11,"x":0.41,"f":7.04,"d":7.02},{"k":11,"x":0.45,"f":6.87,"d":6.90},{"k":11,"x":0.49,"f":6.78,"d":6.76},{"k":11,"x":0.53,"f":6.74,"d":6.77},{"k":11,"x":0.57,"f":6.72,"d":6.70},{"k":11,"x":0.61,"f":6.705,"d":6.73},{"k":11,"x":0.65,"f":6.70,"d":6.68},{"k":11,"x":0.69,"f":6.695,"d":6.72},{"k":11,"x":0.73,"f":6.69,"d":6.67},{"k":11,"x":0.77,"f":6.68,"d":6.70},{"k":11,"x":0.81,"f":6.675,"d":6.66},{"k":11,"x":0.85,"f":6.667,"d":6.69},{"k":11,"x":0.89,"f":6.66,"d":6.64},{"k":11,"x":0.93,"f":6.655,"d":6.68},{"k":11,"x":0.97,"f":6.65,"d":6.63},{"k":11,"x":1.01,"f":6.645,"d":6.67},{"k":11,"x":1.05,"f":6.64,"d":6.62},{"k":11,"x":1.09,"f":6.636,"d":6.66},{"k":11,"x":1.13,"f":6.632,"d":6.61},{"k":11,"x":1.17,"f":6.628,"d":6.65},{"k":11,"x":1.21,"f":6.625,"d":6.60},{"k":11,"x":1.25,"f":6.622,"d":6.64}
],
"Ad":[
{"k":0,"x":-0.65,"d":0.03},{"k":0,"x":-0.61,"d":0.07},{"k":0,"x":-0.57,"d":0.10},{"k":0,"x":-0.53,"d":0.06},{"k":0,"x":-0.49,"d":0.08},{"k":0,"x":-0.45,"d":0.11},{"k":0,"x":-0.41,"d":0.08},{"k":0,"x":-0.37,"d":0.16},{"k":0,"x":-0.33,"d":0.21},{"k":0,"x":-0.29,"d":0.25},{"k":0,"x":-0.25,"d":0.38},{"k":0,"x":-0.21,"d":0.57},{"k":0,"x":-0.17,"d":0.73},{"k":0,"x":-0.13,"d":0.92},{"k":0,"x":-0.09,"d":0.99},{"k":0,"x":-0.05,"d":0.90},{"k":0,"x":-0.01,"d":0.79},{"k":0,"x":0.03,"d":0.77},{"k":0,"x":0.07,"d":0.65},{"k":0,"x":0.11,"d":0.46},{"k":0,"x":0.15,"d":0.39},{"k":0,"x":0.19,"d":0.25},{"k":0,"x":0.23,"d":0.22},{"k":0,"x":0.27,"d":0.16},{"k":0,"x":0.31,"d":0.11},{"k":0,"x":0.35,"d":0.12},{"k":0,"x":0.39,"d":0.07},{"k":0,"x":0.43,"d":0.10},{"k":0,"x":0.47,"d":0.06},{"k":0,"x":0.51,"d":0.02},{"k":0,"x":0.55,"d":0.06},{"k":0,"x":0.59,"d":0.06},{"k":0,"x":0.63,"d":0.02},{"k":0,"x":0.67,"d":0.04},{"k":0,"x":0.71,"d":0.05},{"k":0,"x":0.75,"d":0.02},{"k":0,"x":0.79,"d":0.06},{"k":0,"x":0.83,"d":0.01},{"k":0,"x":0.87,"d":0.03},{"k":0,"x":0.91,"d":0.05},{"k":0,"x":0.95,"d":-0.01},{"k":0,"x":0.99,"d":0.03},{"k":0,"x":1.03,"d":0.01},{"k":0,"x":1.07,"d":0.04},{"k":0,"x":1.11,"d":0.02},{"k":0,"x":1.15,"d":0.00},{"k":0,"x":1.19,"d":0.03},{"k":0,"x":1.23,"d":0.05},
{"k":1,"x":-0.65,"d":0.68},{"k":1,"x":-0.61,"d":0.65},{"k":1,"x":-0.57,"d":0.70},{"k":1,"x":-0.53,"d":0.73},{"k":1,"x":-0.49,"d":0.71},{"k":1,"x":-0.45,"d":0.74},{"k":1,"x":-0.41,"d":0.79},{"k":1,"x":-0.37,"d":0.78},{"k":1,"x":-0.33,"d":0.84},{"k":1,"x":-0.29,"d":0.98},{"k":1,"x":-0.25,"d":1.09},{"k":1,"x":-0.21,"d":1.19},{"k":1,"x":-0.17,"d":1.39},{"k":1,"x":-0.13,"d":1.57},{"k":1,"x":-0.09,"d":1.58},{"k":1,"x":-0.05,"d":1.57},{"k":1,"x":-0.01,"d":1.52},{"k":1,"x":0.03,"d":1.54},{"k":1,"x":0.07,"d":1.39},{"k":1,"x":0.11,"d":1.20},{"k":1,"x":0.15,"d":1.11},{"k":1,"x":0.19,"d":0.96},{"k":1,"x":0.23,"d":0.91},{"k":1,"x":0.27,"d":0.82},{"k":1,"x":0.31,"d":0.74},{"k":1,"x":0.35,"d":0.75},{"k":1,"x":0.39,"d":0.73},{"k":1,"x":0.43,"d":0.67},{"k":1,"x":0.47,"d":0.67},{"k":1,"x":0.51,"d":0.67},{"k":1,"x":0.55,"d":0.65},{"k":1,"x":0.59,"d":0.68},{"k":1,"x":0.63,"d":0.63},{"k":1,"x":0.67,"d":0.64},{"k":1,"x":0.71,"d":0.66},{"k":1,"x":0.75,"d":0.61},{"k":1,"x":0.79,"d":0.64},{"k":1,"x":0.83,"d":0.62},{"k":1,"x":0.87,"d":0.65},{"k":1,"x":0.91,"d":0.63},{"k":1,"x":0.95,"d":0.61},{"k":1,"x":0.99,"d":0.64},{"k":1,"x":1.03,"d":0.66},{"k":1,"x":1.07,"d":0.61},{"k":1,"x":1.11,"d":0.63},{"k":1,"x":1.15,"d":0.65},{"k":1,"x":1.19,"d":0.62},{"k":1,"x":1.23,"d":0.62},
{"k":2,"x":-0.65,"d":1.29},{"k":2,"x":-0.61,"d":1.28},{"k":2,"x":-0.57,"d":1.27},{"k":2,"x":-0.53,"d":1.30},{"k":2,"x":-0.49,"d":1.33},{"k":2,"x":-0.45,"d":1.32},{"k":2,"x":-0.41,"d":1.36},{"k":2,"x":-0.37,"d":1.35},{"k":2,"x":-0.33,"d":1.44},{"k":2,"x":-0.29,"d":1.50},{"k":2,"x":-0.25,"d":1.60},{"k":2,"x":-0.21,"d":1.83},{"k":2,"x":-0.17,"d":1.98},{"k":2,"x":-0.13,"d":2.15},{"k":2,"x":-0.09,"d":2.17},{"k":2,"x":-0.05,"d":2.09},{"k":2,"x":-0.01,"d":2.12},{"k":2,"x":0.03,"d":2.11},{"k":2,"x":0.07,"d":2.03},{"k":2,"x":0.11,"d":1.84},{"k":2,"x":0.15,"d":1.76},{"k":2,"x":0.19,"d":1.59},{"k":2,"x":0.23,"d":1.52},{"k":2,"x":0.27,"d":1.45},{"k":2,"x":0.31,"d":1.38},{"k":2,"x":0.35,"d":1.38},{"k":2,"x":0.39,"d":1.30},{"k":2,"x":0.43,"d":1.29},{"k":2,"x":0.47,"d":1.30},{"k":2,"x":0.51,"d":1.25},{"k":2,"x":0.55,"d":1.27},{"k":2,"x":0.59,"d":1.23},{"k":2,"x":0.63,"d":1.26},{"k":2,"x":0.67,"d":1.24},{"k":2,"x":0.71,"d":1.21},{"k":2,"x":0.75,"d":1.24},{"k":2,"x":0.79,"d":1.25},{"k":2,"x":0.83,"d":1.21},{"k":2,"x":0.87,"d":1.22},{"k":2,"x":0.91,"d":1.26},{"k":2,"x":0.95,"d":1.22},{"k":2,"x":0.99,"d":1.24},{"k":2,"x":1.03,"d":1.23},{"k":2,"x":1.07,"d":1.19},{"k":2,"x":1.11,"d":1.24},{"k":2,"x":1.15,"d":1.21},{"k":2,"x":1.19,"d":1.25},{"k":2,"x":1.23,"d":1.23},
{"k":3,"x":-0.65,"d":1.85},{"k":3,"x":-0.61,"d":1.90},{"k":3,"x":-0.57,"d":1.92},{"k":3,"x":-0.53,"d":1.92},{"k":3,"x":-0.49,"d":1.98},{"k":3,"x":-0.45,"d":1.95},{"k":3,"x":-0.41,"d":2.01},{"k":3,"x":-0.37,"d":2.04},{"k":3,"x":-0.33,"d":2.06},{"k":3,"x":-0.29,"d":2.17},{"k":3,"x":-0.25,"d":2.24},{"k":3,"x":-0.21,"d":2.41},{"k":3,"x":-0.17,"d":2.55},{"k":3,"x":-0.13,"d":2.69},{"k":3,"x":-0.09,"d":2.80},{"k":3,"x":-0.05,"d":2.73},{"k":3,"x":-0.01,"d":2.71},{"k":3,"x":0.03,"d":2.78},{"k":3,"x":0.07,"d":2.68},{"k":3,"x":0.11,"d":2.50},{"k":3,"x":0.15,"d":2.42},{"k":3,"x":0.19,"d":2.27},{"k":3,"x":0.23,"d":2.20},{"k":3,"x":0.27,"d":2.08},{"k":3,"x":0.31,"d":2.04},{"k":3,"x":0.35,"d":1.96},{"k":3,"x":0.39,"d":1.97},{"k":3,"x":0.43,"d":1.91},{"k":3,"x":0.47,"d":1.93},{"k":3,"x":0.51,"d":1.88},{"k":3,"x":0.55,"d":1.91},{"k":3,"x":0.59,"d":1.87},{"k":3,"x":0.63,"d":1.90},{"k":3,"x":0.67,"d":1.86},{"k":3,"x":0.71,"d":1.87},{"k":3,"x":0.75,"d":1.84},{"k":3,"x":0.79,"d":1.88},{"k":3,"x":0.83,"d":1.83},{"k":3,"x":0.87,"d":1.86},{"k":3,"x":0.91,"d":1.82},{"k":3,"x":0.95,"d":1.85},{"k":3,"x":0.99,"d":1.81},{"k":3,"x":1.03,"d":1.85},{"k":3,"x":1.07,"d":1.84},{"k":3,"x":1.11,"d":1.80},{"k":3,"x":1.15,"d":1.83},{"k":3,"x":1.19,"d":1.84},{"k":3,"x":1.23,"d":1.79},
{"k":4,"x":-0.65,"d":2.54},{"k":4,"x":-0.61,"d":2.52},{"k":4,"x":-0.57,"d":2.58},{"k":4,"x":-0.53,"d":2.57},{"k":4,"x":-0.49,"d":2.63},{"k":4,"x":-0.45,"d":2.61},{"k":4,"x":-0.41,"d":2.69},{"k":4,"x":-0.37,"d":2.70},{"k":4,"x":-0.33,"d":2.80},{"k":4,"x":-0.29,"d":2.84},{"k":4,"x":-0.25,"d":2.98},{"k":4,"x":-0.21,"d":3.07},{"k":4,"x":-0.17,"d":3.24},{"k":4,"x":-0.13,"d":3.31},{"k":4,"x":-0.09,"d":3.41},{"k":4,"x":-0.05,"d":3.35},{"k":4,"x":-0.01,"d":3.34},{"k":4,"x":0.03,"d":3.27},{"k":4,"x":0.07,"d":3.28},{"k":4,"x":0.11,"d":3.21},{"k":4,"x":0.15,"d":3.19},{"k":4,"x":0.19,"d":3.08},{"k":4,"x":0.23,"d":3.05},{"k":4,"x":0.27,"d":2.95},{"k":4,"x":0.31,"d":2.93},{"k":4,"x":0.35,"d":2.83},{"k":4,"x":0.39,"d":2.81},{"k":4,"x":0.43,"d":2.71},{"k":4,"x":0.47,"d":2.69},{"k":4,"x":0.51,"d":2.60},{"k":4,"x":0.55,"d":2.60},{"k":4,"x":0.59,"d":2.53},{"k":4,"x":0.63,"d":2.55},{"k":4,"x":0.67,"d":2.49},{"k":4,"x":0.71,"d":2.52},{"k":4,"x":0.75,"d":2.47},{"k":4,"x":0.79,"d":2.50},{"k":4,"x":0.83,"d":2.45},{"k":4,"x":0.87,"d":2.48},{"k":4,"x":0.91,"d":2.44},{"k":4,"x":0.95,"d":2.47},{"k":4,"x":0.99,"d":2.42},{"k":4,"x":1.03,"d":2.46},{"k":4,"x":1.07,"d":2.41},{"k":4,"x":1.11,"d":2.45},{"k":4,"x":1.15,"d":2.40},{"k":4,"x":1.19,"d":2.44},{"k":4,"x":1.23,"d":2.39},
{"k":5,"x":-0.65,"d":3.14},{"k":5,"x":-0.61,"d":3.25},{"k":5,"x":-0.57,"d":3.22},{"k":5,"x":-0.53,"d":3.33},{"k":5,"x":-0.49,"d":3.29},{"k":5,"x":-0.45,"d":3.39},{"k":5,"x":-0.41,"d":3.35},{"k":5,"x":-0.37,"d":3.50},{"k":5,"x":-0.33,"d":3.54},{"k":5,"x":-0.29,"d":3.76},{"k":5,"x":-0.25,"d":3.83},{"k":5,"x":-0.21,"d":3.95},{"k":5,"x":-0.17,"d":3.84},{"k":5,"x":-0.13,"d":3.86},{"k":5,"x":-0.09,"d":3.74},{"k":5,"x":-0.05,"d":3.79},{"k":5,"x":-0.01,"d":3.70},{"k":5,"x":0.03,"d":3.77},{"k":5,"x":0.07,"d":3.69},{"k":5,"x":0.11,"d":3.78},{"k":5,"x":0.15,"d":3.71},{"k":5,"x":0.19,"d":3.81},{"k":5,"x":0.23,"d":3.74},{"k":5,"x":0.27,"d":3.77},{"k":5,"x":0.31,"d":3.63},{"k":5,"x":0.35,"d":3.67},{"k":5,"x":0.39,"d":3.57},{"k":5,"x":0.43,"d":3.67},{"k":5,"x":0.47,"d":3.60},{"k":5,"x":0.51,"d":3.70},{"k":5,"x":0.55,"d":3.64},{"k":5,"x":0.59,"d":3.74},{"k":5,"x":0.63,"d":3.68},{"k":5,"x":0.67,"d":3.79},{"k":5,"x":0.71,"d":3.69},{"k":5,"x":0.75,"d":3.72},{"k":5,"x":0.79,"d":3.54},{"k":5,"x":0.83,"d":3.50},{"k":5,"x":0.87,"d":3.31},{"k":5,"x":0.91,"d":3.31},{"k":5,"x":0.95,"d":3.19},{"k":5,"x":0.99,"d":3.24},{"k":5,"x":1.03,"d":3.13},{"k":5,"x":1.07,"d":3.18},{"k":5,"x":1.11,"d":3.08},{"k":5,"x":1.15,"d":3.14},{"k":5,"x":1.19,"d":3.04},{"k":5,"x":1.23,"d":3.11},
{"k":6,"x":-0.65,"d":3.80},{"k":6,"x":-0.61,"d":3.73},{"k":6,"x":-0.57,"d":3.83},{"k":6,"x":-0.53,"d":3.77},{"k":6,"x":-0.49,"d":3.88},{"k":6,"x":-0.45,"d":3.82},{"k":6,"x":-0.41,"d":3.94},{"k":6,"x":-0.37,"d":3.91},{"k":6,"x":-0.33,"d":4.12},{"k":6,"x":-0.29,"d":4.20},{"k":6,"x":-0.25,"d":4.43},{"k":6,"x":-0.21,"d":4.46},{"k":6,"x":-0.17,"d":4.57},{"k":6,"x":-0.13,"d":4.45},{"k":6,"x":-0.09,"d":4.48},{"k":6,"x":-0.05,"d":4.35},{"k":6,"x":-0.01,"d":4.44},{"k":6,"x":0.03,"d":4.36},{"k":6,"x":0.07,"d":4.41},{"k":6,"x":0.11,"d":4.29},{"k":6,"x":0.15,"d":4.40},{"k":6,"x":0.19,"d":4.30},{"k":6,"x":0.23,"d":4.30},{"k":6,"x":0.27,"d":4.17},{"k":6,"x":0.31,"d":4.29},{"k":6,"x":0.35,"d":4.19},{"k":6,"x":0.39,"d":4.25},{"k":6,"x":0.43,"d":4.20},{"k":6,"x":0.47,"d":4.33},{"k":6,"x":0.51,"d":4.30},{"k":6,"x":0.55,"d":4.42},{"k":6,"x":0.59,"d":4.31},{"k":6,"x":0.63,"d":4.33},{"k":6,"x":0.67,"d":4.16},{"k":6,"x":0.71,"d":4.15},{"k":6,"x":0.75,"d":3.97},{"k":6,"x":0.79,"d":3.97},{"k":6,"x":0.83,"d":3.84},{"k":6,"x":0.87,"d":3.89},{"k":6,"x":0.91,"d":3.77},{"k":6,"x":0.95,"d":3.83},{"k":6,"x":0.99,"d":3.73},{"k":6,"x":1.03,"d":3.79},{"k":6,"x":1.07,"d":3.69},{"k":6,"x":1.11,"d":3.75},{"k":6,"x":1.15,"d":3.65},{"k":6,"x":1.19,"d":3.72},{"k":6,"x":1.23,"d":3.63},
{"k":7,"x":-0.65,"d":4.31},{"k":7,"x":-0.61,"d":4.40},{"k":7,"x":-0.57,"d":4.34},{"k":7,"x":-0.53,"d":4.44},{"k":7,"x":-0.49,"d":4.38},{"k":7,"x":-0.45,"d":4.48},{"k":7,"x":-0.41,"d":4.43},{"k":7,"x":-0.37,"d":4.56},{"k":7,"x":-0.33,"d":4.58},{"k":7,"x":-0.29,"d":4.81},{"k":7,"x":-0.25,"d":4.88},{"k":7,"x":-0.21,"d":5.09},{"k":7,"x":-0.17,"d":5.09},{"k":7,"x":-0.13,"d":5.13},{"k":7,"x":-0.09,"d":4.96},{"k":7,"x":-0.05,"d":4.96},{"k":7,"x":-0.01,"d":4.84},{"k":7,"x":0.03,"d":4.90},{"k":7,"x":0.07,"d":4.84},{"k":7,"x":0.11,"d":4.92},{"k":7,"x":0.15,"d":4.81},{"k":7,"x":0.19,"d":4.85},{"k":7,"x":0.23,"d":4.73},{"k":7,"x":0.27,"d":4.80},{"k":7,"x":0.31,"d":4.74},{"k":7,"x":0.35,"d":4.83},{"k":7,"x":0.39,"d":4.78},{"k":7,"x":0.43,"d":4.93},{"k":7,"x":0.47,"d":4.88},{"k":7,"x":0.51,"d":4.96},{"k":7,"x":0.55,"d":4.83},{"k":7,"x":0.59,"d":4.79},{"k":7,"x":0.63,"d":4.58},{"k":7,"x":0.67,"d":4.55},{"k":7,"x":0.71,"d":4.41},{"k":7,"x":0.75,"d":4.44},{"k":7,"x":0.79,"d":4.33},{"k":7,"x":0.83,"d":4.39},{"k":7,"x":0.87,"d":4.29},{"k":7,"x":0.91,"d":4.35},{"k":7,"x":0.95,"d":4.26},{"k":7,"x":0.99,"d":4.32},{"k":7,"x":1.03,"d":4.23},{"k":7,"x":1.07,"d":4.30},{"k":7,"x":1.11,"d":4.21},{"k":7,"x":1.15,"d":4.29},{"k":7,"x":1.19,"d":4.20},{"k":7,"x":1.23,"d":4.27},
{"k":8,"x":-0.65,"d":4.88},{"k":8,"x":-0.61,"d":4.94},{"k":8,"x":-0.57,"d":4.91},{"k":8,"x":-0.53,"d":4.97},{"k":8,"x":-0.49,"d":4.94},{"k":8,"x":-0.45,"d":5.00},{"k":8,"x":-0.41,"d":4.98},{"k":8,"x":-0.37,"d":5.05},{"k":8,"x":-0.33,"d":5.04},{"k":8,"x":-0.29,"d":5.16},{"k":8,"x":-0.25,"d":5.26},{"k":8,"x":-0.21,"d":5.50},{"k":8,"x":-0.17,"d":5.60},{"k":8,"x":-0.13,"d":5.72},{"k":8,"x":-0.09,"d":5.64},{"k":8,"x":-0.05,"d":5.58},{"k":8,"x":-0.01,"d":5.40},{"k":8,"x":0.03,"d":5.36},{"k":8,"x":0.07,"d":5.33},{"k":8,"x":0.11,"d":5.50},{"k":8,"x":0.15,"d":5.51},{"k":8,"x":0.19,"d":5.48},{"k":8,"x":0.23,"d":5.38},{"k":8,"x":0.27,"d":5.44},{"k":8,"x":0.31,"d":5.45},{"k":8,"x":0.35,"d":5.55},{"k":8,"x":0.39,"d":5.52},{"k":8,"x":0.43,"d":5.58},{"k":8,"x":0.47,"d":5.51},{"k":8,"x":0.51,"d":5.44},{"k":8,"x":0.55,"d":5.22},{"k":8,"x":0.59,"d":5.13},{"k":8,"x":0.63,"d":5.00},{"k":8,"x":0.67,"d":5.00},{"k":8,"x":0.71,"d":4.94},{"k":8,"x":0.75,"d":4.97},{"k":8,"x":0.79,"d":4.92},{"k":8,"x":0.83,"d":4.95},{"k":8,"x":0.87,"d":4.89},{"k":8,"x":0.91,"d":4.93},{"k":8,"x":0.95,"d":4.87},{"k":8,"x":0.99,"d":4.91},{"k":8,"x":1.03,"d":4.86},{"k":8,"x":1.07,"d":4.89},{"k":8,"x":1.11,"d":4.84},{"k":8,"x":1.15,"d":4.88},{"k":8,"x":1.19,"d":4.82},{"k":8,"x":1.23,"d":4.86},
{"k":9,"x":-0.65,"d":5.47},{"k":9,"x":-0.61,"d":5.53},{"k":9,"x":-0.57,"d":5.50},{"k":9,"x":-0.53,"d":5.56},{"k":9,"x":-0.49,"d":5.53},{"k":9,"x":-0.45,"d":5.58},{"k":9,"x":-0.41,"d":5.55},{"k":9,"x":-0.37,"d":5.61},{"k":9,"x":-0.33,"d":5.58},{"k":9,"x":-0.29,"d":5.64},{"k":9,"x":-0.25,"d":5.65},{"k":9,"x":-0.21,"d":5.80},{"k":9,"x":-0.17,"d":5.90},{"k":9,"x":-0.13,"d":6.09},{"k":9,"x":-0.09,"d":6.21},{"k":9,"x":-0.05,"d":6.36},{"k":9,"x":-0.01,"d":6.26},{"k":9,"x":0.03,"d":6.12},{"k":9,"x":0.07,"d":5.98},{"k":9,"x":0.11,"d":6.09},{"k":9,"x":0.15,"d":6.20},{"k":9,"x":0.19,"d":6.20},{"k":9,"x":0.23,"d":5.98},{"k":9,"x":0.27,"d":5.94},{"k":9,"x":0.31,"d":6.03},{"k":9,"x":0.35,"d":6.21},{"k":9,"x":0.39,"d":6.18},{"k":9,"x":0.43,"d":6.09},{"k":9,"x":0.47,"d":5.86},{"k":9,"x":0.51,"d":5.75},{"k":9,"x":0.55,"d":5.62},{"k":9,"x":0.59,"d":5.63},{"k":9,"x":0.63,"d":5.57},{"k":9,"x":0.67,"d":5.59},{"k":9,"x":0.71,"d":5.52},{"k":9,"x":0.75,"d":5.54},{"k":9,"x":0.79,"d":5.47},{"k":9,"x":0.83,"d":5.49},{"k":9,"x":0.87,"d":5.44},{"k":9,"x":0.91,"d":5.47},{"k":9,"x":0.95,"d":5.43},{"k":9,"x":0.99,"d":5.46},{"k":9,"x":1.03,"d":5.42},{"k":9,"x":1.07,"d":5.45},{"k":9,"x":1.11,"d":5.41},{"k":9,"x":1.15,"d":5.44},{"k":9,"x":1.19,"d":5.40},{"k":9,"x":1.23,"d":5.44},
{"k":10,"x":-0.65,"d":6.09},{"k":10,"x":-0.61,"d":6.06},{"k":10,"x":-0.57,"d":6.10},{"k":10,"x":-0.53,"d":6.08},{"k":10,"x":-0.49,"d":6.12},{"k":10,"x":-0.45,"d":6.09},{"k":10,"x":-0.41,"d":6.13},{"k":10,"x":-0.37,"d":6.11},{"k":10,"x":-0.33,"d":6.17},{"k":10,"x":-0.29,"d":6.16},{"k":10,"x":-0.25,"d":6.22},{"k":10,"x":-0.21,"d":6.24},{"k":10,"x":-0.17,"d":6.42},{"k":10,"x":-0.13,"d":6.60},{"k":10,"x":-0.09,"d":6.86},{"k":10,"x":-0.05,"d":6.93},{"k":10,"x":-0.01,"d":6.91},{"k":10,"x":0.03,"d":6.66},{"k":10,"x":0.07,"d":6.52},{"k":10,"x":0.11,"d":6.47},{"k":10,"x":0.15,"d":6.50},{"k":10,"x":0.19,"d":6.42},{"k":10,"x":0.23,"d":6.48},{"k":10,"x":0.27,"d":6.54},{"k":10,"x":0.31,"d":6.67},{"k":10,"x":0.35,"d":6.66},{"k":10,"x":0.39,"d":6.64},{"k":10,"x":0.43,"d":6.47},{"k":10,"x":0.47,"d":6.37},{"k":10,"x":0.51,"d":6.23},{"k":10,"x":0.55,"d":6.19},{"k":10,"x":0.59,"d":6.11},{"k":10,"x":0.63,"d":6.13},{"k":10,"x":0.67,"d":6.09},{"k":10,"x":0.71,"d":6.12},{"k":10,"x":0.75,"d":6.07},{"k":10,"x":0.79,"d":6.11},{"k":10,"x":0.83,"d":6.06},{"k":10,"x":0.87,"d":6.10},{"k":10,"x":0.91,"d":6.05},{"k":10,"x":0.95,"d":6.09},{"k":10,"x":0.99,"d":6.04},{"k":10,"x":1.03,"d":6.07},{"k":10,"x":1.07,"d":6.03},{"k":10,"x":1.11,"d":6.06},{"k":10,"x":1.15,"d":6.02},{"k":10,"x":1.19,"d":6.05},{"k":10,"x":1.23,"d":6.01},
{"k":11,"x":-0.65,"d":6.65},{"k":11,"x":-0.61,"d":6.70},{"k":11,"x":-0.57,"d":6.67},{"k":11,"x":-0.53,"d":6.72},{"k":11,"x":-0.49,"d":6.68},{"k":11,"x":-0.45,"d":6.73},{"k":11,"x":-0.41,"d":6.69},{"k":11,"x":-0.37,"d":6.74},{"k":11,"x":-0.33,"d":6.71},{"k":11,"x":-0.29,"d":6.77},{"k":11,"x":-0.25,"d":6.75},{"k":11,"x":-0.21,"d":6.83},{"k":11,"x":-0.17,"d":6.89},{"k":11,"x":-0.13,"d":7.11},{"k":11,"x":-0.09,"d":7.28},{"k":11,"x":-0.05,"d":7.50},{"k":11,"x":-0.01,"d":7.47},{"k":11,"x":0.03,"d":7.37},{"k":11,"x":0.07,"d":7.18},{"k":11,"x":0.11,"d":7.19},{"k":11,"x":0.15,"d":7.14},{"k":11,"x":0.19,"d":7.16},{"k":11,"x":0.23,"d":7.14},{"k":11,"x":0.27,"d":7.27},{"k":11,"x":0.31,"d":7.28},{"k":11,"x":0.35,"d":7.25},{"k":11,"x":0.39,"d":7.08},{"k":11,"x":0.43,"d":6.98},{"k":11,"x":0.47,"d":6.80},{"k":11,"x":0.51,"d":6.78},{"k":11,"x":0.55,"d":6.71},{"k":11,"x":0.59,"d":6.73},{"k":11,"x":0.63,"d":6.68},{"k":11,"x":0.67,"d":6.72},{"k":11,"x":0.71,"d":6.67},{"k":11,"x":0.75,"d":6.70},{"k":11,"x":0.79,"d":6.66},{"k":11,"x":0.83,"d":6.69},{"k":11,"x":0.87,"d":6.64},{"k":11,"x":0.91,"d":6.68},{"k":11,"x":0.95,"d":6.63},{"k":11,"x":0.99,"d":6.67},{"k":11,"x":1.03,"d":6.62},{"k":11,"x":1.07,"d":6.66},{"k":11,"x":1.11,"d":6.61},{"k":11,"x":1.15,"d":6.65},{"k":11,"x":1.19,"d":6.60},{"k":11,"x":1.23,"d":6.64}
],
"Alab":[
{"lab":"0 mA","x":1.02,"y":0.15},{"lab":"0.3 mA","x":1.02,"y":0.75},{"lab":"0.3 mA","x":1.02,"y":1.35},{"lab":"0.6 mA","x":1.02,"y":1.95},{"lab":"1 mA","x":1.02,"y":3.15},{"lab":"1.2 mA","x":1.02,"y":3.75},{"lab":"1.5 mA","x":1.02,"y":4.35},{"lab":"2 mA","x":1.02,"y":4.95},{"lab":"3 mA","x":1.02,"y":5.55},{"lab":"4 mA","x":1.02,"y":6.15},{"lab":"5 mA","x":1.02,"y":6.75}
],
"B":[
{"c":"0","x":0,"p":0.83},{"c":"0","x":2.5,"p":1.40},{"c":"0","x":5,"p":1.84},{"c":"0","x":7.5,"p":2.10},{"c":"0","x":10,"p":2.25},{"c":"0","x":12.5,"p":2.30},{"c":"0","x":15,"p":2.30},{"c":"0","x":17.5,"p":2.25},{"c":"0","x":20,"p":2.10},{"c":"0","x":22.5,"p":1.85},{"c":"0","x":25,"p":1.50},{"c":"0","x":27.5,"p":1.10},{"c":"0","x":30,"p":0.65},
{"c":"0.3a","x":0,"p":2.74},{"c":"0.3a","x":2.5,"p":3.25},{"c":"0.3a","x":5,"p":3.62},{"c":"0.3a","x":7.5,"p":3.92},{"c":"0.3a","x":10,"p":4.10},{"c":"0.3a","x":12.5,"p":4.18},{"c":"0.3a","x":15,"p":4.21},{"c":"0.3a","x":17.5,"p":4.17},{"c":"0.3a","x":20,"p":4.05},{"c":"0.3a","x":22.5,"p":3.78},{"c":"0.3a","x":25,"p":3.42},{"c":"0.3a","x":27.5,"p":3.02},{"c":"0.3a","x":30,"p":2.56},
{"c":"0.3b","x":0,"p":4.81},{"c":"0.3b","x":2.5,"p":5.40},{"c":"0.3b","x":5,"p":5.86},{"c":"0.3b","x":7.5,"p":6.20},{"c":"0.3b","x":10,"p":6.40},{"c":"0.3b","x":12.5,"p":6.49},{"c":"0.3b","x":15,"p":6.52},{"c":"0.3b","x":17.5,"p":6.48},{"c":"0.3b","x":20,"p":6.35},{"c":"0.3b","x":22.5,"p":6.12},{"c":"0.3b","x":25,"p":5.75},{"c":"0.3b","x":27.5,"p":5.30},{"c":"0.3b","x":30,"p":4.81},
{"c":"0.6","x":0,"p":6.75},{"c":"0.6","x":2.5,"p":7.40},{"c":"0.6","x":5,"p":7.88},{"c":"0.6","x":7.5,"p":8.25},{"c":"0.6","x":10,"p":8.48},{"c":"0.6","x":12.5,"p":8.57},{"c":"0.6","x":15,"p":8.59},{"c":"0.6","x":17.5,"p":8.59},{"c":"0.6","x":20,"p":8.48},{"c":"0.6","x":22.5,"p":8.25},{"c":"0.6","x":25,"p":7.85},{"c":"0.6","x":27.5,"p":7.35},{"c":"0.6","x":30,"p":6.75},
{"c":"0.8","x":0,"p":8.25},{"c":"0.8","x":2.5,"p":9.35},{"c":"0.8","x":5,"p":10.25},{"c":"0.8","x":7.5,"p":10.90},{"c":"0.8","x":10,"p":11.45},{"c":"0.8","x":12.5,"p":11.82},{"c":"0.8","x":15,"p":11.93},{"c":"0.8","x":17.5,"p":11.96},{"c":"0.8","x":20,"p":11.85},{"c":"0.8","x":22.5,"p":11.65},{"c":"0.8","x":25,"p":11.28},{"c":"0.8","x":27.5,"p":10.70},{"c":"0.8","x":30,"p":9.60},
{"c":"1","x":0,"p":7.24},{"c":"1","x":2.5,"p":9.85},{"c":"1","x":5,"p":11.25},{"c":"1","x":7.5,"p":12.50},{"c":"1","x":10,"p":13.70},{"c":"1","x":12.5,"p":14.90},{"c":"1","x":15,"p":15.65},{"c":"1","x":17.5,"p":16.15},{"c":"1","x":20,"p":16.35},{"c":"1","x":22.5,"p":16.25},{"c":"1","x":25,"p":16.05},{"c":"1","x":27.5,"p":15.55},{"c":"1","x":30,"p":14.26},
{"c":"1.2","x":0,"p":10.28},{"c":"1.2","x":2.5,"p":12.05},{"c":"1.2","x":5,"p":13.50},{"c":"1.2","x":7.5,"p":14.75},{"c":"1.2","x":10,"p":15.80},{"c":"1.2","x":12.5,"p":16.50},{"c":"1.2","x":15,"p":17.05},{"c":"1.2","x":17.5,"p":17.42},{"c":"1.2","x":20,"p":17.52},{"c":"1.2","x":22.5,"p":17.35},{"c":"1.2","x":25,"p":17.05},{"c":"1.2","x":27.5,"p":16.55},{"c":"1.2","x":30,"p":15.22},
{"c":"1.5","x":0,"p":12.82},{"c":"1.5","x":2.5,"p":14.65},{"c":"1.5","x":5,"p":16.05},{"c":"1.5","x":7.5,"p":17.20},{"c":"1.5","x":10,"p":18.15},{"c":"1.5","x":12.5,"p":18.80},{"c":"1.5","x":15,"p":19.20},{"c":"1.5","x":17.5,"p":19.45},{"c":"1.5","x":20,"p":19.48},{"c":"1.5","x":22.5,"p":19.30},{"c":"1.5","x":25,"p":19.05},{"c":"1.5","x":27.5,"p":18.55},{"c":"1.5","x":30,"p":17.47},
{"c":"2","x":0,"p":14.70},{"c":"2","x":2.5,"p":16.40},{"c":"2","x":5,"p":17.70},{"c":"2","x":7.5,"p":18.90},{"c":"2","x":10,"p":19.85},{"c":"2","x":12.5,"p":20.65},{"c":"2","x":15,"p":21.10},{"c":"2","x":17.5,"p":21.55},{"c":"2","x":20,"p":21.72},{"c":"2","x":22.5,"p":21.40},{"c":"2","x":25,"p":21.20},{"c":"2","x":27.5,"p":21.10},{"c":"2","x":30,"p":20.12},
{"c":"3","x":0,"p":16.80},{"c":"3","x":2.5,"p":17.92},{"c":"3","x":5,"p":18.68},{"c":"3","x":7.5,"p":19.70},{"c":"3","x":10,"p":20.80},{"c":"3","x":12.5,"p":21.55},{"c":"3","x":15,"p":22.05},{"c":"3","x":17.5,"p":22.45},{"c":"3","x":20,"p":22.52},{"c":"3","x":22.5,"p":22.25},{"c":"3","x":25,"p":22.10},{"c":"3","x":27.5,"p":22.40},{"c":"3","x":30,"p":21.90},
{"c":"4","x":0,"p":18.93},{"c":"4","x":2.5,"p":19.83},{"c":"4","x":5,"p":20.58},{"c":"4","x":7.5,"p":21.65},{"c":"4","x":10,"p":22.70},{"c":"4","x":12.5,"p":23.15},{"c":"4","x":15,"p":23.45},{"c":"4","x":17.5,"p":23.57},{"c":"4","x":20,"p":23.58},{"c":"4","x":22.5,"p":23.40},{"c":"4","x":25,"p":23.20},{"c":"4","x":27.5,"p":23.45},{"c":"4","x":30,"p":23.25},
{"c":"5","x":0,"p":20.89},{"c":"5","x":2.5,"p":21.74},{"c":"5","x":5,"p":22.50},{"c":"5","x":7.5,"p":23.40},{"c":"5","x":10,"p":24.40},{"c":"5","x":12.5,"p":24.95},{"c":"5","x":15,"p":25.12},{"c":"5","x":17.5,"p":25.25},{"c":"5","x":20,"p":25.32},{"c":"5","x":22.5,"p":25.10},{"c":"5","x":25,"p":24.90},{"c":"5","x":27.5,"p":25.12},{"c":"5","x":30,"p":25.18}
],
"C":[
{"c":"0","x":0,"v":1.08},{"c":"0","x":1.5,"v":0.90},{"c":"0","x":3,"v":0.65},{"c":"0","x":4.5,"v":0.42},{"c":"0","x":6,"v":0.30},{"c":"0","x":7.5,"v":0.26},{"c":"0","x":9,"v":0.21},{"c":"0","x":10.5,"v":0.11},{"c":"0","x":12,"v":0.00},{"c":"0","x":13.5,"v":-0.04},{"c":"0","x":15,"v":-0.04},{"c":"0","x":16.5,"v":-0.06},{"c":"0","x":18,"v":-0.12},{"c":"0","x":19.5,"v":-0.22},{"c":"0","x":21,"v":-0.29},{"c":"0","x":22.5,"v":-0.33},{"c":"0","x":24,"v":-0.35},{"c":"0","x":25.5,"v":-0.34},{"c":"0","x":27,"v":-0.45},{"c":"0","x":28.5,"v":-0.68},{"c":"0","x":30,"v":-0.90},
{"c":"0.3a","x":0,"v":1.18},{"c":"0.3a","x":1.5,"v":1.05},{"c":"0.3a","x":3,"v":0.86},{"c":"0.3a","x":4.5,"v":0.70},{"c":"0.3a","x":6,"v":0.62},{"c":"0.3a","x":7.5,"v":0.59},{"c":"0.3a","x":9,"v":0.54},{"c":"0.3a","x":10.5,"v":0.45},{"c":"0.3a","x":12,"v":0.36},{"c":"0.3a","x":13.5,"v":0.31},{"c":"0.3a","x":15,"v":0.31},{"c":"0.3a","x":16.5,"v":0.30},{"c":"0.3a","x":18,"v":0.24},{"c":"0.3a","x":19.5,"v":0.16},{"c":"0.3a","x":21,"v":0.09},{"c":"0.3a","x":22.5,"v":0.03},{"c":"0.3a","x":24,"v":-0.02},{"c":"0.3a","x":25.5,"v":-0.06},{"c":"0.3a","x":27,"v":-0.15},{"c":"0.3a","x":28.5,"v":-0.30},{"c":"0.3a","x":30,"v":-0.49},
{"c":"0.3b","x":0,"v":1.81},{"c":"0.3b","x":1.5,"v":1.60},{"c":"0.3b","x":3,"v":1.35},{"c":"0.3b","x":4.5,"v":1.10},{"c":"0.3b","x":6,"v":0.95},{"c":"0.3b","x":7.5,"v":0.88},{"c":"0.3b","x":9,"v":0.86},{"c":"0.3b","x":10.5,"v":0.84},{"c":"0.3b","x":12,"v":0.76},{"c":"0.3b","x":13.5,"v":0.68},{"c":"0.3b","x":15,"v":0.60},{"c":"0.3b","x":16.5,"v":0.57},{"c":"0.3b","x":18,"v":0.55},{"c":"0.3b","x":19.5,"v":0.48},{"c":"0.3b","x":21,"v":0.40},{"c":"0.3b","x":22.5,"v":0.33},{"c":"0.3b","x":24,"v":0.28},{"c":"0.3b","x":25.5,"v":0.24},{"c":"0.3b","x":27,"v":0.10},{"c":"0.3b","x":28.5,"v":-0.14},{"c":"0.3b","x":30,"v":-0.39},
{"c":"0.6","x":0,"v":2.04},{"c":"0.6","x":1.5,"v":1.84},{"c":"0.6","x":3,"v":1.62},{"c":"0.6","x":4.5,"v":1.42},{"c":"0.6","x":6,"v":1.30},{"c":"0.6","x":7.5,"v":1.23},{"c":"0.6","x":9,"v":1.17},{"c":"0.6","x":10.5,"v":1.11},{"c":"0.6","x":12,"v":1.02},{"c":"0.6","x":13.5,"v":0.94},{"c":"0.6","x":15,"v":0.92},{"c":"0.6","x":16.5,"v":0.90},{"c":"0.6","x":18,"v":0.87},{"c":"0.6","x":19.5,"v":0.82},{"c":"0.6","x":21,"v":0.74},{"c":"0.6","x":22.5,"v":0.65},{"c":"0.6","x":24,"v":0.58},{"c":"0.6","x":25.5,"v":0.50},{"c":"0.6","x":27,"v":0.35},{"c":"0.6","x":28.5,"v":0.05},{"c":"0.6","x":30,"v":-0.29},
{"c":"0.8","x":0,"v":3.24},{"c":"0.8","x":1.5,"v":3.02},{"c":"0.8","x":3,"v":2.75},{"c":"0.8","x":4.5,"v":2.35},{"c":"0.8","x":6,"v":2.08},{"c":"0.8","x":7.5,"v":1.90},{"c":"0.8","x":9,"v":1.80},{"c":"0.8","x":10.5,"v":1.71},{"c":"0.8","x":12,"v":1.60},{"c":"0.8","x":13.5,"v":1.46},{"c":"0.8","x":15,"v":1.36},{"c":"0.8","x":16.5,"v":1.26},{"c":"0.8","x":18,"v":1.16},{"c":"0.8","x":19.5,"v":1.06},{"c":"0.8","x":21,"v":0.99},{"c":"0.8","x":22.5,"v":0.94},{"c":"0.8","x":24,"v":0.91},{"c":"0.8","x":25.5,"v":0.72},{"c":"0.8","x":27,"v":0.40},{"c":"0.8","x":28.5,"v":-0.08},{"c":"0.8","x":30,"v":-0.55},
{"c":"1","x":0,"v":4.77},{"c":"1","x":1.5,"v":4.33},{"c":"1","x":3,"v":3.98},{"c":"1","x":4.5,"v":3.60},{"c":"1","x":6,"v":3.48},{"c":"1","x":7.5,"v":3.36},{"c":"1","x":9,"v":3.22},{"c":"1","x":10.5,"v":3.04},{"c":"1","x":12,"v":2.82},{"c":"1","x":13.5,"v":2.60},{"c":"1","x":15,"v":2.36},{"c":"1","x":16.5,"v":2.16},{"c":"1","x":18,"v":2.00},{"c":"1","x":19.5,"v":1.80},{"c":"1","x":21,"v":1.56},{"c":"1","x":22.5,"v":1.36},{"c":"1","x":24,"v":1.22},{"c":"1","x":25.5,"v":1.13},{"c":"1","x":27,"v":0.92},{"c":"1","x":28.5,"v":0.45},{"c":"1","x":30,"v":-0.22},
{"c":"1.2","x":0,"v":4.50},{"c":"1.2","x":1.5,"v":4.18},{"c":"1.2","x":3,"v":3.93},{"c":"1.2","x":4.5,"v":3.68},{"c":"1.2","x":6,"v":3.50},{"c":"1.2","x":7.5,"v":3.38},{"c":"1.2","x":9,"v":3.23},{"c":"1.2","x":10.5,"v":3.07},{"c":"1.2","x":12,"v":2.87},{"c":"1.2","x":13.5,"v":2.67},{"c":"1.2","x":15,"v":2.42},{"c":"1.2","x":16.5,"v":2.22},{"c":"1.2","x":18,"v":2.06},{"c":"1.2","x":19.5,"v":1.86},{"c":"1.2","x":21,"v":1.62},{"c":"1.2","x":22.5,"v":1.42},{"c":"1.2","x":24,"v":1.32},{"c":"1.2","x":25.5,"v":1.24},{"c":"1.2","x":27,"v":1.05},{"c":"1.2","x":28.5,"v":0.62},{"c":"1.2","x":30,"v":0.15},
{"c":"1.5","x":0,"v":4.87},{"c":"1.5","x":1.5,"v":4.41},{"c":"1.5","x":3,"v":3.97},{"c":"1.5","x":4.5,"v":3.60},{"c":"1.5","x":6,"v":3.54},{"c":"1.5","x":7.5,"v":3.50},{"c":"1.5","x":9,"v":3.42},{"c":"1.5","x":10.5,"v":3.30},{"c":"1.5","x":12,"v":3.10},{"c":"1.5","x":13.5,"v":2.90},{"c":"1.5","x":15,"v":2.68},{"c":"1.5","x":16.5,"v":2.52},{"c":"1.5","x":18,"v":2.40},{"c":"1.5","x":19.5,"v":2.22},{"c":"1.5","x":21,"v":1.95},{"c":"1.5","x":22.5,"v":1.78},{"c":"1.5","x":24,"v":1.71},{"c":"1.5","x":25.5,"v":1.72},{"c":"1.5","x":27,"v":1.55},{"c":"1.5","x":28.5,"v":1.15},{"c":"1.5","x":30,"v":0.48},
{"c":"2","x":0,"v":5.73},{"c":"2","x":1.5,"v":4.85},{"c":"2","x":3,"v":3.95},{"c":"2","x":4.5,"v":3.58},{"c":"2","x":6,"v":3.72},{"c":"2","x":7.5,"v":3.91},{"c":"2","x":9,"v":3.90},{"c":"2","x":10.5,"v":3.77},{"c":"2","x":12,"v":3.48},{"c":"2","x":13.5,"v":3.21},{"c":"2","x":15,"v":3.06},{"c":"2","x":16.5,"v":2.90},{"c":"2","x":18,"v":2.70},{"c":"2","x":19.5,"v":2.38},{"c":"2","x":21,"v":2.02},{"c":"2","x":22.5,"v":1.91},{"c":"2","x":24,"v":2.05},{"c":"2","x":25.5,"v":2.35},{"c":"2","x":27,"v":2.25},{"c":"2","x":28.5,"v":1.45},{"c":"2","x":30,"v":0.58},
{"c":"3","x":0,"v":4.83},{"c":"3","x":1.5,"v":4.38},{"c":"3","x":3,"v":3.72},{"c":"3","x":4.5,"v":3.58},{"c":"3","x":6,"v":3.95},{"c":"3","x":7.5,"v":4.28},{"c":"3","x":9,"v":4.22},{"c":"3","x":10.5,"v":3.97},{"c":"3","x":12,"v":3.60},{"c":"3","x":13.5,"v":3.27},{"c":"3","x":15,"v":3.12},{"c":"3","x":16.5,"v":3.00},{"c":"3","x":18,"v":2.93},{"c":"3","x":19.5,"v":2.67},{"c":"3","x":21,"v":2.28},{"c":"3","x":22.5,"v":2.24},{"c":"3","x":24,"v":2.55},{"c":"3","x":25.5,"v":2.96},{"c":"3","x":27,"v":3.02},{"c":"3","x":28.5,"v":2.40},{"c":"3","x":30,"v":1.44},
{"c":"4","x":0,"v":4.87},{"c":"4","x":1.5,"v":4.40},{"c":"4","x":3,"v":4.03},{"c":"4","x":4.5,"v":3.92},{"c":"4","x":6,"v":4.10},{"c":"4","x":7.5,"v":4.28},{"c":"4","x":9,"v":4.22},{"c":"4","x":10.5,"v":3.97},{"c":"4","x":12,"v":3.62},{"c":"4","x":13.5,"v":3.35},{"c":"4","x":15,"v":3.23},{"c":"4","x":16.5,"v":3.14},{"c":"4","x":18,"v":3.06},{"c":"4","x":19.5,"v":2.88},{"c":"4","x":21,"v":2.66},{"c":"4","x":22.5,"v":2.64},{"c":"4","x":24,"v":2.90},{"c":"4","x":25.5,"v":3.20},{"c":"4","x":27,"v":3.36},{"c":"4","x":28.5,"v":2.98},{"c":"4","x":30,"v":2.24},
{"c":"5","x":0,"v":4.87},{"c":"5","x":1.5,"v":4.35},{"c":"5","x":3,"v":4.10},{"c":"5","x":4.5,"v":4.10},{"c":"5","x":6,"v":4.35},{"c":"5","x":7.5,"v":4.63},{"c":"5","x":9,"v":4.64},{"c":"5","x":10.5,"v":4.37},{"c":"5","x":12,"v":3.99},{"c":"5","x":13.5,"v":3.66},{"c":"5","x":15,"v":3.56},{"c":"5","x":16.5,"v":3.63},{"c":"5","x":18,"v":3.55},{"c":"5","x":19.5,"v":3.31},{"c":"5","x":21,"v":3.05},{"c":"5","x":22.5,"v":2.88},{"c":"5","x":24,"v":3.06},{"c":"5","x":25.5,"v":3.50},{"c":"5","x":27,"v":3.72},{"c":"5","x":28.5,"v":3.52},{"c":"5","x":30,"v":2.91}
],
"arrows":[{"x":8.0,"y1":6.40,"y2":5.30,"yh":5.16},{"x":27.08,"y1":5.50,"y2":4.40,"yh":4.26}]
},
"resolve":{"scale":{"color":"independent","shape":"independent","size":"independent","strokeDash":"independent"},"legend":{"color":"independent","shape":"independent","size":"independent","strokeDash":"independent"}},
"spacing":21,
"vconcat":[
{
 "spacing":33,
 "resolve":{"scale":{"color":"independent","shape":"independent","size":"independent"},"legend":{"color":"independent","shape":"independent","size":"independent"}},
 "hconcat":[
 {"width":2,"height":10,"view":{"stroke":null},"data":{"values":[{"t":""}]},"mark":{"type":"text","text":""}},
 {
 "width":585,"height":753,
 "layer":[
  {"data":{"name":"A"},"mark":{"type":"line","interpolate":"monotone","strokeWidth":2.5},
   "encoding":{
    "x":{"field":"x","type":"quantitative","scale":{"domain":[-0.759,1.343],"nice":false,"zero":false},
         "axis":{"values":[-0.5,-0.25,0,0.25,0.5,0.75,1,1.25],"format":".2f","title":"qᵧ (10⁻³Å⁻¹)","titleX":240,"titleAlign":"center","titlePadding":4,"labelPadding":6}},
    "y":{"field":"f","type":"quantitative","scale":{"domain":[-0.114,7.706],"nice":false,"zero":false},
         "axis":{"values":[0,1,2,3,4,5,6,7],"format":"d","title":null,"labelPadding":8}},
    "detail":{"field":"k","type":"nominal"},
    "color":{"datum":"Fit","type":"nominal","scale":{"domain":["Transverse profile","Fit"],"range":["black","#008000"]},
      "legend":{"orient":"none","legendX":596,"legendY":388,"title":null,"labelFontSize":23,"labelOffset":13,"symbolStrokeWidth":2.5,"rowPadding":0,"padding":8,"strokeColor":"#cccccc","fillColor":"white","cornerRadius":4,"labelExpr":"datum.value == 'Transverse profile' ? ['Transverse', 'profile'] : datum.label","encode":{"labels":{"update":{"lineHeight":{"value":27}}}}}}
   }},
  {"data":{"name":"A"},"mark":{"type":"point","filled":false,"strokeWidth":2,"opacity":1},
   "encoding":{
    "x":{"field":"x","type":"quantitative"},
    "y":{"field":"d","type":"quantitative"},
    "color":{"datum":"Transverse profile","type":"nominal"},
    "shape":{"datum":"Transverse profile","type":"nominal","scale":{"domain":["Transverse profile","Fit"],"range":["circle","stroke"]},
      "legend":{"orient":"none","legendX":596,"legendY":388,"title":null,"labelFontSize":23,"labelOffset":13,"symbolStrokeWidth":2.5,"rowPadding":0,"padding":8,"strokeColor":"#cccccc","fillColor":"white","cornerRadius":4,"labelExpr":"datum.value == 'Transverse profile' ? ['Transverse', 'profile'] : datum.label","encode":{"labels":{"update":{"lineHeight":{"value":27}}}}}},
    "size":{"datum":"Transverse profile","type":"ordinal","scale":{"domain":["Transverse profile","Fit"],"range":[5,2500]},
      "legend":{"orient":"none","legendX":596,"legendY":388,"title":null,"labelFontSize":23,"labelOffset":13,"symbolStrokeWidth":2.5,"rowPadding":0,"padding":8,"strokeColor":"#cccccc","fillColor":"white","cornerRadius":4,"labelExpr":"datum.value == 'Transverse profile' ? ['Transverse', 'profile'] : datum.label","encode":{"labels":{"update":{"lineHeight":{"value":27}}}}}}
   }},
  {"data":{"name":"Ad"},"mark":{"type":"point","filled":false,"strokeWidth":2,"opacity":1},
   "encoding":{
    "x":{"field":"x","type":"quantitative"},
    "y":{"field":"d","type":"quantitative"},
    "color":{"datum":"Transverse profile","type":"nominal"},
    "shape":{"datum":"Transverse profile","type":"nominal"},
    "size":{"datum":"Transverse profile","type":"ordinal"}
   }},
  {"data":{"name":"Alab"},"mark":{"type":"text","align":"left","baseline":"alphabetic","fontSize":23,"color":"black"},
   "encoding":{"x":{"field":"x","type":"quantitative"},"y":{"field":"y","type":"quantitative"},"text":{"field":"lab"}}},
  {"data":{"values":[{"x":0.818,"y":2.55}]},"mark":{"type":"text","text":"I","align":"left","baseline":"alphabetic","fontSize":23,"fontStyle":"italic","color":"red"},
   "encoding":{"x":{"field":"x","type":"quantitative"},"y":{"field":"y","type":"quantitative"}}},
  {"data":{"values":[{"x":0.818,"y":2.55}]},"mark":{"type":"text","text":"S","align":"left","baseline":"alphabetic","fontSize":16,"dx":7,"dy":4,"color":"red"},
   "encoding":{"x":{"field":"x","type":"quantitative"},"y":{"field":"y","type":"quantitative"}}},
  {"data":{"values":[{"x":0.818,"y":2.55}]},"mark":{"type":"text","text":"=0.8 mA","align":"left","baseline":"alphabetic","fontSize":23,"dx":18,"color":"red"},
   "encoding":{"x":{"field":"x","type":"quantitative"},"y":{"field":"y","type":"quantitative"}}},
  {"data":{"values":[{"x":-0.609,"y":7.207}]},"mark":{"type":"text","text":"A","align":"center","baseline":"alphabetic","fontSize":18,"fontWeight":"bold","color":"black"},
   "encoding":{"x":{"field":"x","type":"quantitative"},"y":{"field":"y","type":"quantitative"}}}
 ]
 }
 ]
},
{
 "spacing":9,
 "hconcat":[
 {
  "width":412,"height":402,
  "title":"Phase (rad)",
  "layer":[
   {"data":{"name":"B"},"mark":{"type":"line","interpolate":"monotone","strokeWidth":2.8},
    "encoding":{
     "x":{"field":"x","type":"quantitative","scale":{"domain":[-1.52,31.44],"nice":false,"zero":false},"axis":{"values":[0,5,10,15,20,25,30],"title":"Transverse width (μm)","titlePadding":2}},
     "y":{"field":"p","type":"quantitative","scale":{"domain":[-0.54,26.58],"nice":false,"zero":false},"axis":{"values":[0,4,8,12,16,20,24],"labelExpr":"datum.value == 0 ? '0' : datum.value + 'π'","title":null}},
     "color":{"field":"c","type":"nominal","scale":{"domain":["0","0.3b","0.8","1.2","2","4","0.3a","0.6","1","1.5","3","5"],"range":["#2f1a3c","#4790f0","#ff0000","#c2ef33","#fb8b2d","#ba2109","#4453c2","#27c3dc","#7df54f","#f4c93c","#ea5218","#7a0403"]},
       "legend":{"orient":"none","legendX":30,"legendY":479,"columns":6,"direction":"horizontal","title":"Current (mA)","titleFontSize":23,"titleFontWeight":"normal","titleAnchor":"middle","titlePadding":-3,"labelFontSize":23,"labelOffset":17,"columnPadding":38,"rowPadding":-20,"symbolType":"stroke","symbolSize":2500,"symbolStrokeWidth":3,"padding":8,"strokeColor":"#cccccc","fillColor":"white","cornerRadius":4,"labelExpr":"datum.value == '0.3a' || datum.value == '0.3b' ? '0.3' : datum.label"}},
     "strokeDash":{"field":"c","type":"nominal","scale":{"domain":["0","0.3b","0.8","1.2","2","4","0.3a","0.6","1","1.5","3","5"],"range":[[1,0],[1,0],[10,5],[1,0],[1,0],[1,0],[1,0],[1,0],[1,0],[1,0],[1,0],[1,0]]},
       "legend":{"orient":"none","legendX":30,"legendY":479,"columns":6,"direction":"horizontal","title":"Current (mA)","titleFontSize":23,"titleFontWeight":"normal","titleAnchor":"middle","titlePadding":-3,"labelFontSize":23,"labelOffset":17,"columnPadding":38,"rowPadding":-20,"symbolType":"stroke","symbolSize":2500,"symbolStrokeWidth":3,"padding":8,"strokeColor":"#cccccc","fillColor":"white","cornerRadius":4,"labelExpr":"datum.value == '0.3a' || datum.value == '0.3b' ? '0.3' : datum.label"}}
    }},
   {"data":{"values":[{"x":20.0,"y":12.41}]},"mark":{"type":"text","text":"I","align":"left","baseline":"alphabetic","fontSize":38,"color":"red"},
    "encoding":{"x":{"field":"x","type":"quantitative"},"y":{"field":"y","type":"quantitative"}}},
   {"data":{"values":[{"x":20.0,"y":12.41}]},"mark":{"type":"text","text":"S","align":"left","baseline":"alphabetic","fontSize":28,"fontStyle":"italic","dx":9,"dy":5,"color":"red"},
    "encoding":{"x":{"field":"x","type":"quantitative"},"y":{"field":"y","type":"quantitative"}}},
   {"data":{"values":[{"x":0.96,"y":24.22}]},"mark":{"type":"text","text":"B","align":"center","baseline":"alphabetic","fontSize":18,"fontWeight":"bold","color":"black"},
    "encoding":{"x":{"field":"x","type":"quantitative"},"y":{"field":"y","type":"quantitative"}}}
  ]
 },
 {
  "width":412,"height":402,
  "title":"Phase derivative (10⁻²rad/μm)",
  "layer":[
   {"data":{"name":"C"},"mark":{"type":"line","interpolate":"monotone","strokeWidth":2.8},
    "encoding":{
     "x":{"field":"x","type":"quantitative","scale":{"domain":[-1.52,31.5],"nice":false,"zero":false},"axis":{"values":[0,5,10,15,20,25,30],"title":"Transverse width (μm)","titlePadding":2}},
     "y":{"field":"v","type":"quantitative","scale":{"domain":[-1.256,6.761],"nice":false,"zero":false},"axis":{"values":[-1,0,1,2,3,4,5,6],"format":"d","title":null}},
     "color":{"field":"c","type":"nominal","scale":{"domain":["0","0.3b","0.8","1.2","2","4","0.3a","0.6","1","1.5","3","5"],"range":["#2f1a3c","#4790f0","#ff0000","#c2ef33","#fb8b2d","#ba2109","#4453c2","#27c3dc","#7df54f","#f4c93c","#ea5218","#7a0403"]},
       "legend":{"orient":"none","legendX":30,"legendY":479,"columns":6,"direction":"horizontal","title":"Current (mA)","titleFontSize":23,"titleFontWeight":"normal","titleAnchor":"middle","titlePadding":-3,"labelFontSize":23,"labelOffset":17,"columnPadding":38,"rowPadding":-20,"symbolType":"stroke","symbolSize":2500,"symbolStrokeWidth":3,"padding":8,"strokeColor":"#cccccc","fillColor":"white","cornerRadius":4,"labelExpr":"datum.value == '0.3a' || datum.value == '0.3b' ? '0.3' : datum.label"}},
     "strokeDash":{"field":"c","type":"nominal","scale":{"domain":["0","0.3b","0.8","1.2","2","4","0.3a","0.6","1","1.5","3","5"],"range":[[1,0],[1,0],[10,5],[1,0],[1,0],[1,0],[1,0],[1,0],[1,0],[1,0],[1,0],[1,0]]},
       "legend":{"orient":"none","legendX":30,"legendY":479,"columns":6,"direction":"horizontal","title":"Current (mA)","titleFontSize":23,"titleFontWeight":"normal","titleAnchor":"middle","titlePadding":-3,"labelFontSize":23,"labelOffset":17,"columnPadding":38,"rowPadding":-20,"symbolType":"stroke","symbolSize":2500,"symbolStrokeWidth":3,"padding":8,"strokeColor":"#cccccc","fillColor":"white","cornerRadius":4,"labelExpr":"datum.value == '0.3a' || datum.value == '0.3b' ? '0.3' : datum.label"}}
    }},
   {"data":{"name":"arrows"},"mark":{"type":"rule","color":"blue","strokeWidth":6,"strokeCap":"butt"},
    "encoding":{"x":{"field":"x","type":"quantitative"},"y":{"field":"y1","type":"quantitative"},"y2":{"field":"y2"}}},
   {"data":{"name":"arrows"},"mark":{"type":"point","shape":"M-0.76,-1L0.76,-1L0,1Z","filled":true,"color":"blue","size":625,"opacity":1,"strokeWidth":0},
    "encoding":{"x":{"field":"x","type":"quantitative"},"y":{"field":"yh","type":"quantitative"}}},
   {"data":{"values":[{"x":5.0,"y":2.21}]},"mark":{"type":"text","text":"I","align":"left","baseline":"alphabetic","fontSize":38,"color":"red"},
    "encoding":{"x":{"field":"x","type":"quantitative"},"y":{"field":"y","type":"quantitative"}}},
   {"data":{"values":[{"x":5.0,"y":2.21}]},"mark":{"type":"text","text":"S","align":"left","baseline":"alphabetic","fontSize":28,"fontStyle":"italic","dx":9,"dy":5,"color":"red"},
    "encoding":{"x":{"field":"x","type":"quantitative"},"y":{"field":"y","type":"quantitative"}}},
   {"data":{"values":[{"x":0.80,"y":6.06}]},"mark":{"type":"text","text":"C","align":"center","baseline":"alphabetic","fontSize":18,"fontWeight":"bold","color":"black"},
    "encoding":{"x":{"field":"x","type":"quantitative"},"y":{"field":"y","type":"quantitative"}}}
  ]
 }
 ]
}
]
}
